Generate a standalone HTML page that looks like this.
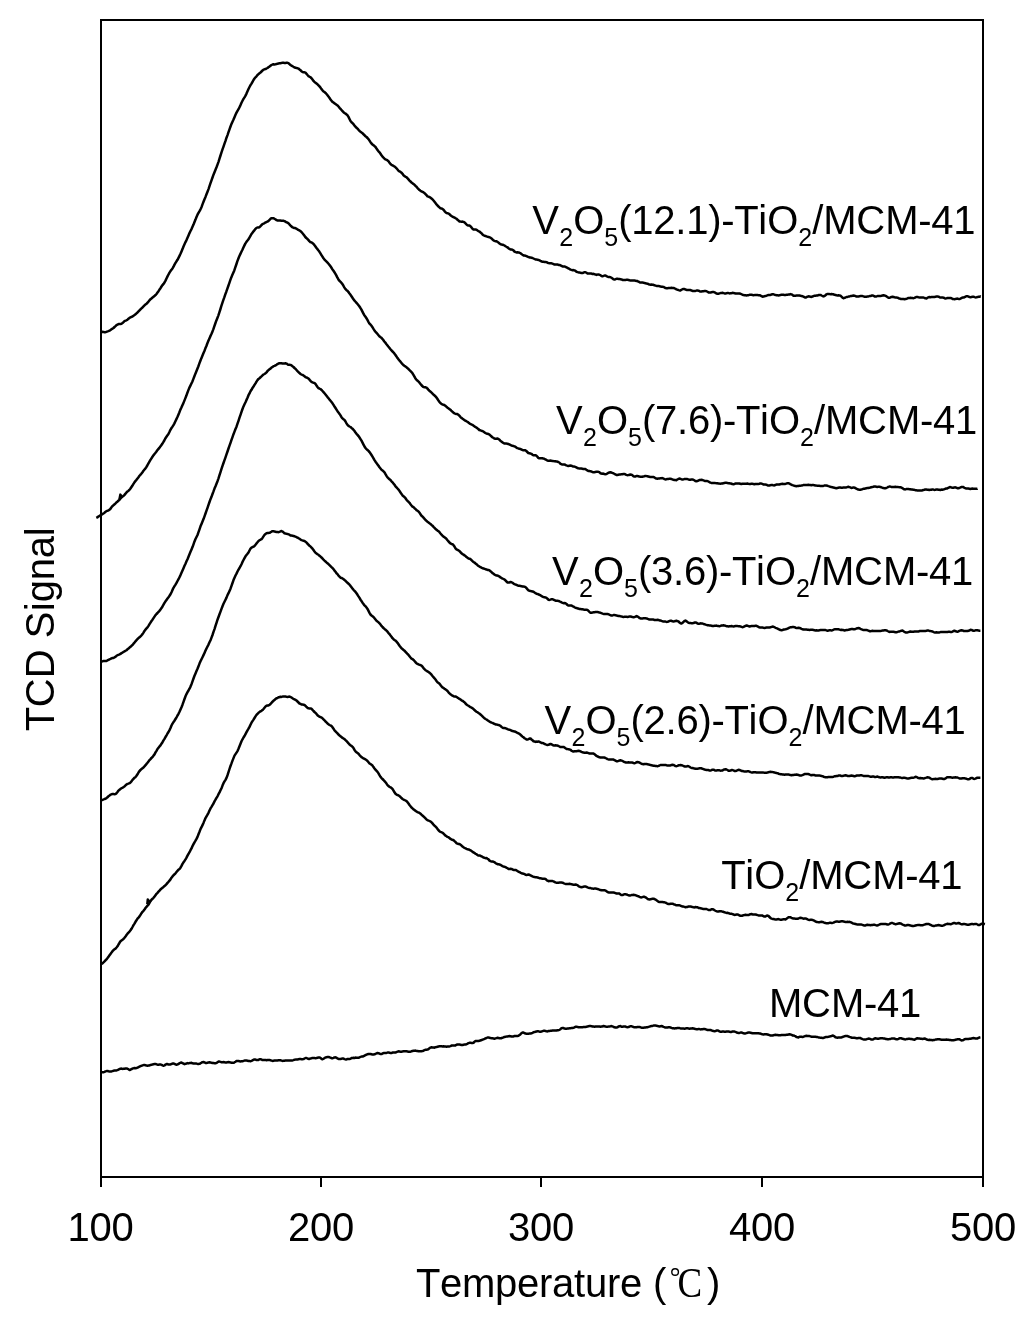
<!DOCTYPE html>
<html><head><meta charset="utf-8">
<style>
html,body{margin:0;padding:0;background:#fff;}
body{width:1024px;height:1324px;overflow:hidden;}
svg{display:block;will-change:transform;}
text{font-family:"Liberation Sans",sans-serif;fill:#000;font-kerning:none;}
</style></head>
<body>
<svg width="1024" height="1324" viewBox="0 0 1024 1324">
<rect x="0" y="0" width="1024" height="1324" fill="#fff"/>
<g stroke="#000" stroke-width="2" fill="none" shape-rendering="crispEdges">
<rect x="101" y="20" width="882" height="1157"/>
<line x1="101" y1="1177" x2="101" y2="1187"/>
<line x1="321" y1="1177" x2="321" y2="1187"/>
<line x1="541" y1="1177" x2="541" y2="1187"/>
<line x1="762" y1="1177" x2="762" y2="1187"/>
<line x1="983" y1="1177" x2="983" y2="1187"/>
</g>
<text><tspan x="67.5 89.5 111.5" y="1241.0" font-size="40">100</tspan></text>
<text><tspan x="288.0 310.0 332.0" y="1241.0" font-size="40">200</tspan></text>
<text><tspan x="508.0 530.0 552.0" y="1241.0" font-size="40">300</tspan></text>
<text><tspan x="729.0 751.0 773.0" y="1241.0" font-size="40">400</tspan></text>
<text><tspan x="950.0 972.0 994.0" y="1241.0" font-size="40">500</tspan></text>
<text><tspan x="416.1 440.1 462.1 495.1 517.1 539.1 552.1 574.1 585.1 607.1 620.1 642.1 653.1" y="1297.0" font-size="40">Temperature (</tspan></text>
<text><tspan x="707.1" y="1297.0" font-size="40">)</tspan></text>
<text transform="translate(54,731.3) rotate(-90)"><tspan x="0.0 24.0 53.0 82.0 93.0 120.0 129.0 151.0 173.0 195.0" y="0.0" font-size="40">TCD Signal</tspan></text>
<text><tspan x="532.2" y="234.0" font-size="40">V</tspan><tspan x="559.2" y="246.0" font-size="25">2</tspan><tspan x="573.2" y="234.0" font-size="40">O</tspan><tspan x="604.2" y="246.0" font-size="25">5</tspan><tspan x="618.2 631.2 653.2 675.2 686.2 708.2 721.2 734.2 758.2 767.2" y="234.0" font-size="40">(12.1)-TiO</tspan><tspan x="798.2" y="246.0" font-size="25">2</tspan><tspan x="812.2 823.2 856.2 885.2 918.2 931.2 953.2" y="234.0" font-size="40">/MCM-41</tspan></text>
<text><tspan x="556.1" y="434.0" font-size="40">V</tspan><tspan x="583.1" y="446.0" font-size="25">2</tspan><tspan x="597.1" y="434.0" font-size="40">O</tspan><tspan x="628.1" y="446.0" font-size="25">5</tspan><tspan x="642.1 655.1 677.1 688.1 710.1 723.1 736.1 760.1 769.1" y="434.0" font-size="40">(7.6)-TiO</tspan><tspan x="800.1" y="446.0" font-size="25">2</tspan><tspan x="814.1 825.1 858.1 887.1 920.1 933.1 955.1" y="434.0" font-size="40">/MCM-41</tspan></text>
<text><tspan x="551.9" y="585.0" font-size="40">V</tspan><tspan x="578.9" y="597.0" font-size="25">2</tspan><tspan x="592.9" y="585.0" font-size="40">O</tspan><tspan x="623.9" y="597.0" font-size="25">5</tspan><tspan x="637.9 650.9 672.9 683.9 705.9 718.9 731.9 755.9 764.9" y="585.0" font-size="40">(3.6)-TiO</tspan><tspan x="795.9" y="597.0" font-size="25">2</tspan><tspan x="809.9 820.9 853.9 882.9 915.9 928.9 950.9" y="585.0" font-size="40">/MCM-41</tspan></text>
<text><tspan x="544.6" y="734.0" font-size="40">V</tspan><tspan x="571.6" y="746.0" font-size="25">2</tspan><tspan x="585.6" y="734.0" font-size="40">O</tspan><tspan x="616.6" y="746.0" font-size="25">5</tspan><tspan x="630.6 643.6 665.6 676.6 698.6 711.6 724.6 748.6 757.6" y="734.0" font-size="40">(2.6)-TiO</tspan><tspan x="788.6" y="746.0" font-size="25">2</tspan><tspan x="802.6 813.6 846.6 875.6 908.6 921.6 943.6" y="734.0" font-size="40">/MCM-41</tspan></text>
<text><tspan x="721.3 745.3 754.3" y="888.5" font-size="40">TiO</tspan><tspan x="785.3" y="900.5" font-size="25">2</tspan><tspan x="799.3 810.3 843.3 872.3 905.3 918.3 940.3" y="888.5" font-size="40">/MCM-41</tspan></text>
<text><tspan x="768.9 801.9 830.9 863.9 876.9 898.9" y="1017.0" font-size="40">MCM-41</tspan></text>
<circle cx="675.1" cy="1272" r="3.3" fill="none" stroke="#000" stroke-width="1.4"/><text x="0.0" y="1297.5" style="font-family:'Liberation Serif',serif;font-size:43px" transform="translate(677.6 0) scale(0.86 1)">C</text>
<g id="curves" stroke="#000" stroke-width="2.50" fill="none" stroke-linejoin="round" stroke-linecap="butt">
<path d="M100.5 332.2L101.5 331.9L102.5 331.8L103.5 331.9L104.5 332.2L105.5 332.2L106.5 331.8L107.5 331.4L108.5 331.1L109.5 330.7L110.5 330.0L111.5 329.2L112.5 328.6L113.5 328.0L114.5 327.0L115.5 326.1L116.5 325.1L117.5 324.6L118.5 324.1L119.5 324.1L120.5 323.9L121.5 323.7L122.5 323.0L123.5 322.1L124.5 321.1L125.5 320.7L126.5 320.3L127.5 319.7L128.5 318.7L129.5 317.9L130.5 317.4L131.5 316.9L132.5 316.5L133.5 315.8L134.5 315.1L135.5 314.3L136.5 313.4L137.5 312.5L138.5 311.4L139.5 310.3L140.5 309.3L141.5 308.4L142.5 307.5L143.5 306.4L144.5 305.4L145.5 304.4L146.5 303.7L147.5 302.8L148.5 301.6L149.5 300.3L150.5 299.2L151.5 298.4L152.5 297.6L153.5 296.7L154.5 295.9L155.5 295.1L156.5 294.0L157.5 292.6L158.5 291.2L159.5 289.6L160.5 288.2L161.5 286.5L162.5 285.1L163.5 283.9L164.5 282.5L165.5 280.6L166.5 278.5L167.5 276.4L168.5 274.5L169.5 272.6L170.5 271.1L171.5 269.7L172.5 268.5L173.5 266.7L174.5 264.6L175.5 262.9L176.5 261.3L177.5 259.8L178.5 257.9L179.5 255.9L180.5 253.8L181.5 251.5L182.5 249.1L183.5 246.5L184.5 244.3L185.5 242.1L186.5 240.1L187.5 237.8L188.5 235.4L189.5 233.1L190.5 231.0L191.5 229.1L192.5 226.8L193.5 224.6L194.5 222.0L195.5 219.6L196.5 217.0L197.5 214.7L198.5 212.8L199.5 211.1L200.5 209.3L201.5 207.2L202.5 204.4L203.5 201.8L204.5 199.2L205.5 196.9L206.5 194.3L207.5 191.7L208.5 189.1L209.5 186.2L210.5 183.2L211.5 180.3L212.5 177.5L213.5 174.7L214.5 172.2L215.5 169.7L216.5 167.3L217.5 164.6L218.5 161.8L219.5 158.6L220.5 155.5L221.5 152.3L222.5 149.4L223.5 146.6L224.5 143.6L225.5 140.9L226.5 137.7L227.5 135.1L228.5 132.2L229.5 129.4L230.5 126.5L231.5 123.9L232.5 121.8L233.5 119.6L234.5 117.2L235.5 114.7L236.5 112.6L237.5 110.8L238.5 109.2L239.5 107.2L240.5 105.1L241.5 102.8L242.5 100.8L243.5 98.9L244.5 97.4L245.5 95.6L246.5 93.6L247.5 91.3L248.5 89.0L249.5 87.0L250.5 85.2L251.5 83.6L252.5 81.8L253.5 80.0L254.5 78.5L255.5 77.3L256.5 76.3L257.5 75.0L258.5 74.1L259.5 73.2L260.5 72.5L261.5 71.5L262.5 70.5L263.5 69.7L264.5 69.3L265.5 69.1L266.5 68.5L267.5 68.0L268.5 67.1L269.5 66.6L270.5 65.8L271.5 65.0L272.5 64.5L273.5 64.3L274.5 64.4L275.5 64.3L276.5 64.1L277.5 63.7L278.5 63.5L279.5 63.3L280.5 63.2L281.5 62.9L282.5 62.8L283.5 62.8L284.5 63.0L285.5 63.0L286.5 62.8L287.5 62.8L288.5 63.2L289.5 64.1L290.5 65.0L291.5 65.6L292.5 66.2L293.5 66.8L294.5 67.3L295.5 67.8L296.5 67.9L297.5 68.3L298.5 68.6L299.5 69.4L300.5 70.2L301.5 71.3L302.5 72.0L303.5 72.2L304.5 72.3L305.5 72.7L306.5 73.8L307.5 75.0L308.5 76.1L309.5 76.7L310.5 77.3L311.5 78.2L312.5 79.5L313.5 80.9L314.5 82.0L315.5 82.7L316.5 83.5L317.5 84.3L318.5 85.3L319.5 86.4L320.5 87.6L321.5 89.1L322.5 90.3L323.5 91.4L324.5 92.1L325.5 92.9L326.5 94.0L327.5 95.2L328.5 96.6L329.5 97.9L330.5 99.5L331.5 100.7L332.5 101.9L333.5 102.5L334.5 103.4L335.5 104.0L336.5 104.7L337.5 105.4L338.5 106.5L339.5 107.8L340.5 108.9L341.5 110.0L342.5 111.1L343.5 112.2L344.5 113.0L345.5 113.6L346.5 114.4L347.5 115.3L348.5 116.9L349.5 119.0L350.5 121.0L351.5 122.2L352.5 123.1L353.5 124.2L354.5 125.6L355.5 126.8L356.5 127.7L357.5 128.6L358.5 129.8L359.5 130.9L360.5 131.8L361.5 132.5L362.5 133.2L363.5 134.3L364.5 135.2L365.5 136.3L366.5 137.0L367.5 138.0L368.5 139.1L369.5 140.6L370.5 142.2L371.5 143.5L372.5 144.5L373.5 145.3L374.5 146.1L375.5 147.0L376.5 148.5L377.5 149.9L378.5 151.3L379.5 152.3L380.5 153.7L381.5 155.2L382.5 156.6L383.5 157.7L384.5 158.7L385.5 159.4L386.5 159.8L387.5 160.4L388.5 161.2L389.5 162.8L390.5 164.0L391.5 164.9L392.5 165.4L393.5 165.9L394.5 166.6L395.5 167.3L396.5 168.3L397.5 169.5L398.5 170.7L399.5 171.4L400.5 171.9L401.5 172.7L402.5 173.8L403.5 175.2L404.5 176.1L405.5 176.7L406.5 177.3L407.5 178.2L408.5 179.4L409.5 180.6L410.5 181.5L411.5 182.5L412.5 183.2L413.5 184.1L414.5 184.8L415.5 185.9L416.5 186.8L417.5 188.1L418.5 189.0L419.5 190.1L420.5 190.8L421.5 191.3L422.5 191.8L423.5 192.4L424.5 193.1L425.5 194.1L426.5 195.2L427.5 196.3L428.5 196.7L429.5 197.2L430.5 197.7L431.5 198.5L432.5 199.4L433.5 200.5L434.5 201.8L435.5 203.1L436.5 204.4L437.5 205.5L438.5 206.5L439.5 207.4L440.5 208.2L441.5 208.5L442.5 208.9L443.5 209.7L444.5 211.1L445.5 212.3L446.5 213.0L447.5 213.2L448.5 213.6L449.5 214.3L450.5 215.2L451.5 216.0L452.5 216.6L453.5 217.2L454.5 217.7L455.5 218.2L456.5 218.8L457.5 219.7L458.5 220.6L459.5 221.4L460.5 221.6L461.5 221.7L462.5 221.6L463.5 221.9L464.5 222.4L465.5 223.4L466.5 224.5L467.5 225.2L468.5 225.5L469.5 225.6L470.5 226.3L471.5 227.4L472.5 228.7L473.5 229.5L474.5 229.6L475.5 229.6L476.5 229.8L477.5 230.5L478.5 231.1L479.5 231.6L480.5 232.4L481.5 233.2L482.5 234.4L483.5 235.2L484.5 235.8L485.5 236.0L486.5 236.4L487.5 236.7L488.5 237.1L489.5 237.3L490.5 237.7L491.5 238.4L492.5 239.5L493.5 240.4L494.5 240.9L495.5 241.2L496.5 241.3L497.5 241.9L498.5 242.6L499.5 243.5L500.5 244.1L501.5 244.6L502.5 244.7L503.5 245.0L504.5 245.5L505.5 246.2L506.5 246.8L507.5 247.3L508.5 248.2L509.5 248.9L510.5 249.5L511.5 249.4L512.5 249.9L513.5 250.4L514.5 251.6L515.5 252.0L516.5 252.5L517.5 252.3L518.5 252.4L519.5 252.7L520.5 253.3L521.5 254.1L522.5 254.8L523.5 255.4L524.5 255.6L525.5 255.8L526.5 256.1L527.5 256.6L528.5 257.0L529.5 257.4L530.5 257.6L531.5 257.8L532.5 258.0L533.5 258.5L534.5 259.0L535.5 259.5L536.5 259.6L537.5 259.7L538.5 259.9L539.5 260.3L540.5 261.0L541.5 261.3L542.5 261.8L543.5 261.7L544.5 261.9L545.5 261.9L546.5 262.2L547.5 262.7L548.5 263.0L549.5 263.2L550.5 263.2L551.5 263.3L552.5 263.7L553.5 264.1L554.5 264.5L555.5 264.4L556.5 264.5L557.5 264.5L558.5 264.9L559.5 264.9L560.5 265.4L561.5 265.9L562.5 266.4L563.5 266.4L564.5 266.4L565.5 266.8L566.5 267.3L567.5 268.0L568.5 268.4L569.5 269.0L570.5 269.6L571.5 269.9L572.5 270.2L573.5 270.1L574.5 270.4L575.5 270.9L576.5 271.8L577.5 272.1L578.5 272.4L579.5 272.4L580.5 272.8L581.5 273.1L582.5 273.1L583.5 272.6L584.5 272.2L585.5 272.2L586.5 272.8L587.5 273.5L588.5 273.6L589.5 273.5L590.5 273.5L591.5 273.6L592.5 274.0L593.5 273.8L594.5 274.2L595.5 274.4L596.5 274.9L597.5 274.6L598.5 274.6L599.5 274.7L600.5 275.3L601.5 276.0L602.5 276.3L603.5 275.9L604.5 275.6L605.5 275.5L606.5 276.1L607.5 276.6L608.5 277.0L609.5 277.1L610.5 277.2L611.5 277.8L612.5 278.5L613.5 279.3L614.5 279.5L615.5 279.2L616.5 278.8L617.5 278.7L618.5 278.9L619.5 279.0L620.5 279.2L621.5 279.4L622.5 279.9L623.5 280.0L624.5 280.1L625.5 279.9L626.5 279.8L627.5 279.8L628.5 280.0L629.5 280.3L630.5 280.5L631.5 280.6L632.5 280.5L633.5 280.5L634.5 280.6L635.5 280.7L636.5 280.9L637.5 281.1L638.5 281.7L639.5 282.2L640.5 282.5L641.5 282.5L642.5 282.6L643.5 282.7L644.5 283.1L645.5 283.3L646.5 283.6L647.5 283.7L648.5 284.2L649.5 284.4L650.5 284.7L651.5 284.6L652.5 284.8L653.5 284.8L654.5 285.3L655.5 285.6L656.5 285.9L657.5 285.9L658.5 285.9L659.5 286.2L660.5 286.6L661.5 286.8L662.5 286.8L663.5 286.9L664.5 287.5L665.5 288.1L666.5 288.3L667.5 288.2L668.5 288.0L669.5 288.0L670.5 288.0L671.5 287.8L672.5 287.9L673.5 287.9L674.5 288.4L675.5 288.7L676.5 289.4L677.5 289.7L678.5 290.1L679.5 290.4L680.5 290.4L681.5 289.8L682.5 289.2L683.5 288.9L684.5 289.1L685.5 289.5L686.5 289.9L687.5 290.0L688.5 290.0L689.5 289.9L690.5 290.1L691.5 290.5L692.5 290.9L693.5 291.1L694.5 291.0L695.5 290.9L696.5 290.6L697.5 290.5L698.5 290.7L699.5 291.2L700.5 291.5L701.5 291.5L702.5 291.2L703.5 291.3L704.5 291.1L705.5 291.1L706.5 291.2L707.5 291.8L708.5 292.4L709.5 292.6L710.5 292.6L711.5 292.3L712.5 292.1L713.5 291.9L714.5 292.3L715.5 292.9L716.5 293.6L717.5 293.8L718.5 293.7L719.5 293.4L720.5 293.1L721.5 293.0L722.5 292.8L723.5 293.1L724.5 293.4L725.5 293.6L726.5 293.2L727.5 293.1L728.5 293.1L729.5 293.4L730.5 293.3L731.5 293.2L732.5 292.8L733.5 292.9L734.5 293.2L735.5 293.6L736.5 293.6L737.5 293.4L738.5 293.4L739.5 293.5L740.5 293.8L741.5 294.2L742.5 294.8L743.5 295.1L744.5 295.3L745.5 295.2L746.5 295.4L747.5 295.3L748.5 295.2L749.5 294.8L750.5 294.7L751.5 294.8L752.5 295.0L753.5 295.2L754.5 295.1L755.5 294.9L756.5 295.0L757.5 295.1L758.5 295.2L759.5 295.2L760.5 295.5L761.5 296.2L762.5 296.7L763.5 296.6L764.5 296.2L765.5 295.9L766.5 295.7L767.5 295.3L768.5 295.1L769.5 295.0L770.5 294.9L771.5 294.5L772.5 294.2L773.5 294.3L774.5 294.7L775.5 294.9L776.5 295.2L777.5 295.3L778.5 295.4L779.5 295.2L780.5 295.1L781.5 294.7L782.5 294.7L783.5 294.8L784.5 295.1L785.5 294.9L786.5 294.7L787.5 294.7L788.5 294.6L789.5 294.5L790.5 294.1L791.5 294.4L792.5 294.9L793.5 295.7L794.5 295.7L795.5 295.7L796.5 295.6L797.5 295.6L798.5 295.5L799.5 295.5L800.5 295.8L801.5 296.0L802.5 296.3L803.5 296.6L804.5 297.2L805.5 297.5L806.5 297.2L807.5 296.7L808.5 296.3L809.5 296.5L810.5 296.7L811.5 296.9L812.5 296.5L813.5 296.1L814.5 295.7L815.5 295.7L816.5 295.5L817.5 295.5L818.5 295.1L819.5 295.0L820.5 294.9L821.5 295.5L822.5 296.0L823.5 296.4L824.5 296.0L825.5 295.2L826.5 294.3L827.5 293.9L828.5 293.9L829.5 294.1L830.5 294.2L831.5 294.0L832.5 294.2L833.5 294.3L834.5 294.8L835.5 295.0L836.5 295.3L837.5 295.4L838.5 295.3L839.5 295.4L840.5 295.7L841.5 296.6L842.5 297.6L843.5 298.2L844.5 297.9L845.5 297.5L846.5 297.0L847.5 296.9L848.5 296.6L849.5 296.4L850.5 296.1L851.5 296.0L852.5 295.8L853.5 295.6L854.5 295.7L855.5 296.1L856.5 296.5L857.5 296.4L858.5 296.4L859.5 296.2L860.5 296.1L861.5 296.0L862.5 296.1L863.5 296.4L864.5 296.7L865.5 296.7L866.5 296.7L867.5 296.4L868.5 296.4L869.5 296.1L870.5 296.1L871.5 295.6L872.5 295.6L873.5 295.8L874.5 296.4L875.5 296.5L876.5 296.5L877.5 296.0L878.5 296.0L879.5 295.9L880.5 296.0L881.5 295.8L882.5 295.5L883.5 295.3L884.5 295.4L885.5 295.8L886.5 296.4L887.5 297.1L888.5 297.7L889.5 297.8L890.5 297.4L891.5 296.9L892.5 296.7L893.5 297.0L894.5 297.3L895.5 297.5L896.5 297.6L897.5 297.7L898.5 298.2L899.5 298.5L900.5 298.9L901.5 298.9L902.5 299.1L903.5 299.1L904.5 299.3L905.5 299.1L906.5 298.8L907.5 298.4L908.5 297.9L909.5 297.9L910.5 297.8L911.5 298.0L912.5 298.0L913.5 298.2L914.5 297.8L915.5 297.3L916.5 296.9L917.5 297.1L918.5 297.3L919.5 297.4L920.5 297.5L921.5 297.4L922.5 297.5L923.5 297.5L924.5 298.0L925.5 298.3L926.5 298.4L927.5 297.7L928.5 297.3L929.5 297.1L930.5 297.2L931.5 297.1L932.5 297.1L933.5 297.0L934.5 297.0L935.5 296.8L936.5 296.6L937.5 296.4L938.5 296.7L939.5 297.2L940.5 297.5L941.5 297.4L942.5 297.4L943.5 297.7L944.5 298.2L945.5 298.4L946.5 298.3L947.5 298.1L948.5 298.1L949.5 297.9L950.5 298.0L951.5 298.3L952.5 298.9L953.5 299.1L954.5 299.2L955.5 298.9L956.5 298.7L957.5 298.6L958.5 298.9L959.5 299.0L960.5 298.6L961.5 298.0L962.5 297.6L963.5 297.5L964.5 297.2L965.5 296.6L966.5 296.2L967.5 296.2L968.5 296.6L969.5 297.0L970.5 297.2L971.5 297.0L972.5 296.8L973.5 296.7L974.5 297.1L975.5 297.4L976.5 297.3L977.5 297.1L978.5 296.8L979.5 296.8L980.5 296.4L980.8 296.5"/>
<path d="M96.3 517.9L97.3 517.4L98.3 516.6L99.3 516.0L100.3 515.4L101.3 514.9L102.3 514.3L103.3 513.6L104.3 512.9L105.3 512.0L106.3 511.3L107.3 510.7L108.3 510.5L109.3 509.9L110.3 509.0L111.3 507.5L112.3 506.3L113.3 505.4L114.3 504.5L115.3 503.6L116.3 502.5L117.3 501.7L118.3 500.8L119.3 500.0L120.3 498.7L121.3 497.6L122.3 496.7L123.3 496.0L124.3 495.1L125.3 493.9L126.3 492.7L127.3 491.6L128.3 490.9L129.3 490.0L130.3 488.8L131.3 487.3L132.3 485.8L133.3 484.1L134.3 482.6L135.3 481.2L136.3 480.1L137.3 478.7L138.3 477.4L139.3 476.0L140.3 474.9L141.3 473.7L142.3 472.4L143.3 471.0L144.3 469.8L145.3 468.6L146.3 467.2L147.3 465.5L148.3 463.6L149.3 461.9L150.3 460.2L151.3 458.6L152.3 457.0L153.3 455.6L154.3 454.2L155.3 453.0L156.3 451.7L157.3 450.3L158.3 449.1L159.3 447.9L160.3 446.6L161.3 445.2L162.3 443.8L163.3 442.2L164.3 440.5L165.3 438.5L166.3 437.0L167.3 435.6L168.3 434.3L169.3 432.3L170.3 430.1L171.3 428.3L172.3 426.9L173.3 425.4L174.3 423.6L175.3 421.5L176.3 419.4L177.3 417.3L178.3 414.9L179.3 412.5L180.3 409.9L181.3 407.8L182.3 405.5L183.3 403.4L184.3 400.9L185.3 398.4L186.3 395.8L187.3 393.0L188.3 390.4L189.3 387.9L190.3 385.9L191.3 383.8L192.3 381.7L193.3 379.1L194.3 376.5L195.3 373.9L196.3 371.5L197.3 369.0L198.3 366.5L199.3 363.7L200.3 361.0L201.3 358.4L202.3 356.0L203.3 353.5L204.3 351.2L205.3 348.6L206.3 346.2L207.3 343.5L208.3 341.1L209.3 338.8L210.3 336.4L211.3 334.3L212.3 331.9L213.3 329.4L214.3 326.4L215.3 323.5L216.3 320.7L217.3 318.2L218.3 315.6L219.3 312.6L220.3 309.5L221.3 306.2L222.3 303.2L223.3 300.1L224.3 297.4L225.3 294.4L226.3 291.7L227.3 288.8L228.3 286.0L229.3 283.1L230.3 280.2L231.3 277.4L232.3 275.1L233.3 272.7L234.3 270.4L235.3 267.4L236.3 264.5L237.3 261.4L238.3 258.8L239.3 256.2L240.3 254.1L241.3 252.0L242.3 250.0L243.3 247.7L244.3 245.6L245.3 243.6L246.3 242.1L247.3 240.7L248.3 239.5L249.3 237.8L250.3 236.2L251.3 234.2L252.3 232.9L253.3 231.6L254.3 230.4L255.3 229.1L256.3 228.0L257.3 227.5L258.3 227.5L259.3 227.3L260.3 226.4L261.3 225.2L262.3 224.3L263.3 223.7L264.3 223.3L265.3 222.6L266.3 222.1L267.3 221.7L268.3 221.1L269.3 220.1L270.3 219.1L271.3 218.3L272.3 218.2L273.3 218.2L274.3 218.7L275.3 219.3L276.3 220.0L277.3 220.4L278.3 220.5L279.3 220.5L280.3 220.6L281.3 220.8L282.3 220.8L283.3 220.7L284.3 221.1L285.3 221.5L286.3 222.2L287.3 222.4L288.3 223.2L289.3 224.2L290.3 225.4L291.3 226.3L292.3 227.2L293.3 227.7L294.3 228.1L295.3 228.1L296.3 228.6L297.3 229.2L298.3 229.9L299.3 230.4L300.3 231.0L301.3 231.9L302.3 233.0L303.3 234.2L304.3 235.6L305.3 237.0L306.3 238.0L307.3 238.8L308.3 239.9L309.3 241.1L310.3 242.0L311.3 242.4L312.3 242.9L313.3 243.7L314.3 244.9L315.3 246.2L316.3 247.7L317.3 248.9L318.3 250.3L319.3 251.6L320.3 253.2L321.3 254.8L322.3 256.4L323.3 258.0L324.3 259.3L325.3 260.4L326.3 261.4L327.3 262.4L328.3 263.5L329.3 264.7L330.3 266.1L331.3 267.5L332.3 269.2L333.3 270.5L334.3 272.0L335.3 273.6L336.3 275.4L337.3 277.4L338.3 279.2L339.3 280.7L340.3 281.7L341.3 282.7L342.3 283.9L343.3 285.5L344.3 287.4L345.3 288.9L346.3 289.9L347.3 290.7L348.3 291.8L349.3 293.3L350.3 294.6L351.3 296.0L352.3 297.5L353.3 299.1L354.3 300.4L355.3 301.5L356.3 302.6L357.3 303.8L358.3 305.0L359.3 306.3L360.3 307.8L361.3 309.4L362.3 311.4L363.3 313.3L364.3 315.2L365.3 316.5L366.3 318.0L367.3 319.7L368.3 321.6L369.3 323.3L370.3 324.4L371.3 325.5L372.3 326.9L373.3 328.6L374.3 330.2L375.3 331.6L376.3 332.6L377.3 333.8L378.3 335.0L379.3 336.2L380.3 337.0L381.3 337.7L382.3 338.8L383.3 340.0L384.3 341.5L385.3 342.6L386.3 344.0L387.3 345.2L388.3 346.5L389.3 347.7L390.3 349.0L391.3 350.2L392.3 351.3L393.3 352.2L394.3 353.4L395.3 354.7L396.3 356.2L397.3 357.8L398.3 359.1L399.3 360.3L400.3 361.4L401.3 362.7L402.3 363.9L403.3 365.0L404.3 365.8L405.3 366.4L406.3 367.1L407.3 368.0L408.3 368.8L409.3 369.9L410.3 370.9L411.3 371.9L412.3 373.0L413.3 374.6L414.3 376.4L415.3 378.2L416.3 379.6L417.3 380.5L418.3 381.4L419.3 382.4L420.3 383.7L421.3 384.9L422.3 386.1L423.3 386.9L424.3 387.2L425.3 387.3L426.3 387.6L427.3 388.4L428.3 389.6L429.3 390.7L430.3 391.5L431.3 392.4L432.3 393.4L433.3 394.5L434.3 395.3L435.3 396.2L436.3 397.3L437.3 398.8L438.3 400.3L439.3 401.7L440.3 402.9L441.3 403.8L442.3 404.4L443.3 404.7L444.3 405.0L445.3 405.7L446.3 406.6L447.3 407.5L448.3 408.2L449.3 408.9L450.3 409.7L451.3 410.7L452.3 411.6L453.3 412.5L454.3 413.3L455.3 413.7L456.3 413.9L457.3 414.0L458.3 414.7L459.3 415.6L460.3 416.8L461.3 417.8L462.3 418.6L463.3 419.3L464.3 420.0L465.3 420.7L466.3 421.2L467.3 421.8L468.3 422.4L469.3 423.2L470.3 423.9L471.3 424.4L472.3 424.8L473.3 425.5L474.3 426.2L475.3 426.9L476.3 427.5L477.3 428.3L478.3 429.0L479.3 430.0L480.3 430.3L481.3 430.7L482.3 430.9L483.3 431.6L484.3 432.3L485.3 433.0L486.3 433.5L487.3 433.7L488.3 433.9L489.3 434.5L490.3 435.4L491.3 436.3L492.3 437.2L493.3 437.8L494.3 438.5L495.3 438.7L496.3 438.7L497.3 438.5L498.3 438.9L499.3 439.6L500.3 440.7L501.3 441.4L502.3 442.3L503.3 442.9L504.3 443.5L505.3 443.6L506.3 443.6L507.3 443.7L508.3 444.0L509.3 444.4L510.3 444.9L511.3 445.4L512.3 445.8L513.3 445.9L514.3 446.3L515.3 446.7L516.3 447.5L517.3 448.1L518.3 448.4L519.3 448.8L520.3 448.9L521.3 449.5L522.3 449.9L523.3 450.3L524.3 450.2L525.3 450.3L526.3 451.0L527.3 452.0L528.3 453.0L529.3 453.2L530.3 453.4L531.3 453.8L532.3 454.6L533.3 455.2L534.3 455.2L535.3 455.2L536.3 455.7L537.3 456.7L538.3 457.8L539.3 458.3L540.3 458.3L541.3 458.3L542.3 458.3L543.3 458.6L544.3 458.8L545.3 459.3L546.3 459.9L547.3 460.5L548.3 460.7L549.3 460.7L550.3 460.6L551.3 460.7L552.3 460.9L553.3 461.1L554.3 461.2L555.3 461.3L556.3 461.6L557.3 461.6L558.3 462.0L559.3 462.5L560.3 463.6L561.3 464.2L562.3 464.6L563.3 464.4L564.3 464.5L565.3 464.8L566.3 465.3L567.3 465.7L568.3 465.9L569.3 465.7L570.3 465.6L571.3 465.7L572.3 466.2L573.3 466.4L574.3 466.6L575.3 466.9L576.3 467.4L577.3 468.0L578.3 468.3L579.3 468.4L580.3 468.4L581.3 468.5L582.3 468.7L583.3 468.9L584.3 469.0L585.3 469.1L586.3 469.8L587.3 470.4L588.3 471.0L589.3 470.9L590.3 471.3L591.3 471.4L592.3 472.0L593.3 472.2L594.3 472.2L595.3 472.0L596.3 471.8L597.3 471.7L598.3 471.8L599.3 472.2L600.3 473.2L601.3 473.5L602.3 473.8L603.3 473.6L604.3 474.0L605.3 474.2L606.3 474.1L607.3 473.5L608.3 472.9L609.3 472.5L610.3 472.3L611.3 472.5L612.3 472.9L613.3 473.2L614.3 473.8L615.3 474.3L616.3 474.9L617.3 475.0L618.3 474.8L619.3 474.6L620.3 474.4L621.3 474.3L622.3 474.3L623.3 474.1L624.3 474.1L625.3 474.3L626.3 474.8L627.3 475.2L628.3 475.1L629.3 474.9L630.3 474.5L631.3 474.7L632.3 475.2L633.3 476.2L634.3 476.6L635.3 476.5L636.3 476.1L637.3 476.1L638.3 476.3L639.3 476.6L640.3 476.7L641.3 476.8L642.3 476.7L643.3 476.4L644.3 476.2L645.3 475.9L646.3 476.1L647.3 476.2L648.3 476.5L649.3 476.8L650.3 477.1L651.3 477.1L652.3 476.9L653.3 476.9L654.3 477.4L655.3 478.1L656.3 478.6L657.3 478.7L658.3 478.4L659.3 478.4L660.3 478.3L661.3 478.2L662.3 478.1L663.3 478.4L664.3 479.1L665.3 479.4L666.3 479.2L667.3 479.0L668.3 478.9L669.3 478.8L670.3 478.7L671.3 478.9L672.3 479.4L673.3 479.7L674.3 480.1L675.3 480.1L676.3 480.2L677.3 479.5L678.3 479.0L679.3 478.6L680.3 478.8L681.3 479.2L682.3 479.4L683.3 479.4L684.3 479.1L685.3 479.0L686.3 478.9L687.3 479.1L688.3 479.4L689.3 479.7L690.3 479.7L691.3 479.5L692.3 479.4L693.3 479.7L694.3 480.3L695.3 481.0L696.3 481.3L697.3 481.1L698.3 480.6L699.3 480.1L700.3 479.9L701.3 479.8L702.3 479.9L703.3 480.3L704.3 480.7L705.3 481.0L706.3 481.0L707.3 481.1L708.3 481.4L709.3 482.1L710.3 482.5L711.3 483.0L712.3 482.9L713.3 482.9L714.3 482.9L715.3 483.1L716.3 483.2L717.3 483.2L718.3 483.4L719.3 483.6L720.3 483.7L721.3 483.6L722.3 483.5L723.3 483.2L724.3 483.0L725.3 482.8L726.3 482.8L727.3 482.9L728.3 483.2L729.3 483.3L730.3 483.5L731.3 483.6L732.3 484.1L733.3 484.2L734.3 484.0L735.3 483.6L736.3 483.5L737.3 483.4L738.3 483.4L739.3 483.5L740.3 483.8L741.3 484.1L742.3 483.8L743.3 483.7L744.3 483.7L745.3 483.8L746.3 483.7L747.3 483.6L748.3 483.8L749.3 483.9L750.3 483.9L751.3 483.7L752.3 483.8L753.3 483.9L754.3 484.3L755.3 484.0L756.3 484.1L757.3 483.9L758.3 483.9L759.3 483.7L760.3 483.4L761.3 483.6L762.3 483.9L763.3 484.4L764.3 484.6L765.3 484.6L766.3 484.7L767.3 485.2L768.3 485.5L769.3 485.6L770.3 485.2L771.3 485.0L772.3 485.1L773.3 485.3L774.3 485.4L775.3 485.0L776.3 484.6L777.3 484.5L778.3 484.6L779.3 484.6L780.3 484.2L781.3 483.9L782.3 483.8L783.3 484.1L784.3 484.1L785.3 483.9L786.3 483.6L787.3 483.3L788.3 483.3L789.3 483.5L790.3 484.1L791.3 484.6L792.3 485.1L793.3 485.4L794.3 485.7L795.3 485.9L796.3 486.2L797.3 486.1L798.3 486.0L799.3 485.8L800.3 485.7L801.3 485.6L802.3 485.4L803.3 485.1L804.3 485.0L805.3 485.1L806.3 485.0L807.3 485.0L808.3 484.8L809.3 485.0L810.3 485.1L811.3 485.3L812.3 485.1L813.3 485.1L814.3 485.2L815.3 485.4L816.3 485.6L817.3 485.7L818.3 485.7L819.3 485.8L820.3 485.9L821.3 486.1L822.3 486.0L823.3 486.0L824.3 485.5L825.3 485.4L826.3 485.5L827.3 485.7L828.3 486.1L829.3 486.4L830.3 486.8L831.3 487.1L832.3 487.3L833.3 487.5L834.3 487.7L835.3 488.1L836.3 488.3L837.3 488.1L838.3 487.7L839.3 487.5L840.3 487.5L841.3 487.7L842.3 487.7L843.3 487.6L844.3 487.5L845.3 487.6L846.3 487.4L847.3 487.1L848.3 486.8L849.3 487.1L850.3 487.4L851.3 487.9L852.3 487.8L853.3 487.6L854.3 487.6L855.3 488.0L856.3 488.7L857.3 489.1L858.3 489.6L859.3 489.7L860.3 489.8L861.3 489.4L862.3 489.2L863.3 488.8L864.3 488.7L865.3 488.5L866.3 488.3L867.3 487.9L868.3 487.9L869.3 487.7L870.3 487.5L871.3 487.2L872.3 487.0L873.3 486.8L874.3 486.5L875.3 486.5L876.3 486.7L877.3 486.9L878.3 486.8L879.3 486.8L880.3 487.0L881.3 487.3L882.3 487.7L883.3 487.9L884.3 488.2L885.3 488.2L886.3 488.0L887.3 487.5L888.3 486.9L889.3 486.6L890.3 486.6L891.3 486.9L892.3 487.1L893.3 487.0L894.3 486.9L895.3 486.7L896.3 486.9L897.3 486.9L898.3 487.1L899.3 487.2L900.3 487.3L901.3 487.5L902.3 488.1L903.3 488.8L904.3 489.3L905.3 489.4L906.3 489.1L907.3 489.0L908.3 488.9L909.3 489.2L910.3 489.2L911.3 489.5L912.3 489.5L913.3 489.7L914.3 489.8L915.3 490.2L916.3 490.3L917.3 490.4L918.3 490.4L919.3 490.5L920.3 490.5L921.3 490.4L922.3 490.4L923.3 490.0L924.3 489.8L925.3 489.5L926.3 489.5L927.3 489.7L928.3 489.7L929.3 490.0L930.3 489.8L931.3 489.7L932.3 489.4L933.3 489.6L934.3 489.9L935.3 489.8L936.3 489.6L937.3 489.4L938.3 489.8L939.3 489.8L940.3 490.0L941.3 489.6L942.3 489.7L943.3 489.4L944.3 489.2L945.3 488.8L946.3 488.5L947.3 488.4L948.3 487.8L949.3 487.3L950.3 487.1L951.3 487.4L952.3 487.8L953.3 487.7L954.3 487.4L955.3 487.3L956.3 487.7L957.3 488.2L958.3 488.3L959.3 488.0L960.3 487.5L961.3 487.1L962.3 486.9L963.3 487.1L964.3 487.8L965.3 488.2L966.3 488.6L967.3 488.4L968.3 488.5L969.3 488.7L970.3 488.9L971.3 488.7L972.3 488.6L973.3 488.7L974.3 488.8L975.3 488.8L976.3 488.8L977.3 488.8L977.5 488.7"/>
<path d="M100.5 661.8L101.5 661.7L102.5 661.3L103.5 660.9L104.5 660.9L105.5 661.0L106.5 660.9L107.5 660.4L108.5 659.8L109.5 659.3L110.5 658.9L111.5 658.4L112.5 658.0L113.5 657.9L114.5 657.4L115.5 656.8L116.5 655.8L117.5 655.2L118.5 654.8L119.5 654.4L120.5 653.9L121.5 653.1L122.5 652.6L123.5 651.9L124.5 651.4L125.5 650.8L126.5 650.2L127.5 649.3L128.5 648.6L129.5 647.6L130.5 646.8L131.5 645.8L132.5 645.0L133.5 643.7L134.5 642.6L135.5 641.3L136.5 640.2L137.5 639.0L138.5 638.1L139.5 637.3L140.5 636.3L141.5 635.3L142.5 634.1L143.5 632.6L144.5 630.9L145.5 629.6L146.5 628.4L147.5 627.4L148.5 625.9L149.5 624.2L150.5 622.6L151.5 621.0L152.5 619.7L153.5 618.1L154.5 616.6L155.5 615.1L156.5 614.0L157.5 613.0L158.5 611.9L159.5 610.8L160.5 609.4L161.5 608.1L162.5 606.5L163.5 604.7L164.5 602.9L165.5 601.3L166.5 599.9L167.5 598.5L168.5 597.2L169.5 595.8L170.5 594.3L171.5 592.2L172.5 589.9L173.5 587.8L174.5 586.2L175.5 584.6L176.5 582.9L177.5 581.0L178.5 579.2L179.5 577.2L180.5 575.1L181.5 572.8L182.5 570.5L183.5 568.2L184.5 565.8L185.5 563.7L186.5 561.3L187.5 559.2L188.5 556.7L189.5 554.3L190.5 551.8L191.5 549.5L192.5 547.1L193.5 544.3L194.5 541.4L195.5 539.0L196.5 537.0L197.5 535.0L198.5 532.2L199.5 529.3L200.5 526.3L201.5 523.9L202.5 521.5L203.5 519.1L204.5 516.3L205.5 513.5L206.5 510.7L207.5 507.9L208.5 504.9L209.5 502.0L210.5 499.2L211.5 496.8L212.5 494.0L213.5 491.4L214.5 488.6L215.5 486.3L216.5 483.8L217.5 481.2L218.5 478.3L219.5 475.1L220.5 472.1L221.5 468.9L222.5 465.9L223.5 463.0L224.5 460.2L225.5 457.4L226.5 454.4L227.5 451.5L228.5 448.5L229.5 445.7L230.5 442.8L231.5 439.9L232.5 437.1L233.5 434.2L234.5 431.6L235.5 429.0L236.5 426.7L237.5 423.7L238.5 420.8L239.5 417.7L240.5 414.9L241.5 411.9L242.5 409.0L243.5 406.4L244.5 404.2L245.5 402.2L246.5 399.9L247.5 397.8L248.5 395.2L249.5 393.3L250.5 391.3L251.5 389.8L252.5 387.9L253.5 386.5L254.5 384.9L255.5 383.4L256.5 381.6L257.5 380.1L258.5 378.9L259.5 378.2L260.5 377.3L261.5 376.4L262.5 375.4L263.5 374.5L264.5 374.0L265.5 373.3L266.5 372.4L267.5 371.0L268.5 370.1L269.5 369.2L270.5 368.6L271.5 367.6L272.5 366.9L273.5 366.2L274.5 365.8L275.5 365.3L276.5 364.8L277.5 364.1L278.5 363.5L279.5 363.2L280.5 363.2L281.5 363.3L282.5 363.6L283.5 363.6L284.5 363.4L285.5 363.3L286.5 363.6L287.5 364.3L288.5 364.8L289.5 364.8L290.5 364.9L291.5 365.4L292.5 366.3L293.5 367.0L294.5 368.0L295.5 368.9L296.5 370.0L297.5 371.1L298.5 372.1L299.5 373.1L300.5 373.9L301.5 374.6L302.5 374.9L303.5 375.5L304.5 376.2L305.5 377.1L306.5 377.5L307.5 377.9L308.5 378.6L309.5 379.7L310.5 380.9L311.5 381.9L312.5 382.4L313.5 382.7L314.5 383.1L315.5 383.9L316.5 385.5L317.5 387.0L318.5 388.2L319.5 388.7L320.5 389.1L321.5 389.9L322.5 391.0L323.5 392.1L324.5 393.3L325.5 394.5L326.5 395.8L327.5 397.1L328.5 398.3L329.5 399.6L330.5 400.8L331.5 402.0L332.5 403.3L333.5 404.9L334.5 406.5L335.5 408.0L336.5 409.6L337.5 411.2L338.5 412.6L339.5 413.9L340.5 415.4L341.5 417.2L342.5 418.4L343.5 419.3L344.5 420.0L345.5 421.5L346.5 423.3L347.5 424.9L348.5 425.9L349.5 426.5L350.5 427.0L351.5 427.9L352.5 428.7L353.5 429.8L354.5 431.0L355.5 432.5L356.5 433.8L357.5 434.9L358.5 436.1L359.5 437.5L360.5 439.1L361.5 440.7L362.5 442.6L363.5 444.6L364.5 446.5L365.5 448.0L366.5 449.1L367.5 450.0L368.5 450.9L369.5 452.1L370.5 453.5L371.5 455.0L372.5 456.6L373.5 458.3L374.5 460.1L375.5 461.7L376.5 463.1L377.5 464.4L378.5 465.8L379.5 467.3L380.5 468.5L381.5 469.7L382.5 470.4L383.5 471.4L384.5 472.4L385.5 474.2L386.5 475.9L387.5 477.4L388.5 478.3L389.5 479.3L390.5 480.1L391.5 481.3L392.5 482.3L393.5 483.6L394.5 484.8L395.5 486.3L396.5 487.4L397.5 488.5L398.5 489.6L399.5 490.9L400.5 492.6L401.5 493.9L402.5 495.4L403.5 496.2L404.5 497.1L405.5 498.2L406.5 499.7L407.5 500.9L408.5 501.8L409.5 502.8L410.5 504.2L411.5 505.5L412.5 506.7L413.5 507.2L414.5 508.2L415.5 509.0L416.5 510.1L417.5 510.7L418.5 511.4L419.5 512.7L420.5 514.3L421.5 515.8L422.5 516.6L423.5 517.7L424.5 518.8L425.5 520.0L426.5 520.9L427.5 521.8L428.5 522.5L429.5 523.3L430.5 524.0L431.5 524.9L432.5 525.7L433.5 526.8L434.5 527.8L435.5 529.0L436.5 529.8L437.5 530.6L438.5 531.2L439.5 532.2L440.5 533.5L441.5 534.7L442.5 535.7L443.5 536.6L444.5 537.2L445.5 538.0L446.5 538.9L447.5 540.2L448.5 541.4L449.5 542.6L450.5 543.4L451.5 544.0L452.5 544.2L453.5 545.2L454.5 546.6L455.5 548.3L456.5 549.4L457.5 549.9L458.5 550.4L459.5 551.1L460.5 552.3L461.5 553.2L462.5 554.1L463.5 554.6L464.5 555.4L465.5 556.0L466.5 557.1L467.5 557.8L468.5 558.5L469.5 558.7L470.5 559.2L471.5 560.1L472.5 561.1L473.5 562.0L474.5 562.6L475.5 563.4L476.5 564.2L477.5 565.2L478.5 565.9L479.5 566.6L480.5 567.1L481.5 567.8L482.5 568.1L483.5 568.6L484.5 568.7L485.5 569.3L486.5 569.5L487.5 569.9L488.5 570.0L489.5 570.4L490.5 571.3L491.5 572.1L492.5 573.1L493.5 573.7L494.5 574.7L495.5 575.1L496.5 575.5L497.5 575.6L498.5 576.0L499.5 576.6L500.5 577.4L501.5 578.0L502.5 578.6L503.5 578.9L504.5 579.6L505.5 580.4L506.5 581.6L507.5 582.4L508.5 582.6L509.5 582.4L510.5 582.0L511.5 582.2L512.5 582.8L513.5 583.6L514.5 584.1L515.5 584.5L516.5 584.9L517.5 585.4L518.5 585.8L519.5 585.8L520.5 586.0L521.5 586.2L522.5 586.6L523.5 586.6L524.5 586.7L525.5 587.1L526.5 588.2L527.5 589.3L528.5 590.4L529.5 590.8L530.5 591.1L531.5 591.2L532.5 591.5L533.5 591.8L534.5 592.5L535.5 593.1L536.5 593.7L537.5 593.9L538.5 594.5L539.5 594.8L540.5 595.4L541.5 596.0L542.5 596.6L543.5 597.0L544.5 597.2L545.5 597.4L546.5 597.8L547.5 598.8L548.5 599.7L549.5 599.9L550.5 599.6L551.5 599.2L552.5 599.3L553.5 599.6L554.5 600.2L555.5 600.7L556.5 600.7L557.5 600.8L558.5 600.9L559.5 601.4L560.5 601.8L561.5 602.4L562.5 602.8L563.5 603.2L564.5 603.1L565.5 603.3L566.5 604.0L567.5 605.0L568.5 605.6L569.5 605.5L570.5 605.4L571.5 605.5L572.5 606.1L573.5 606.6L574.5 607.3L575.5 607.7L576.5 608.0L577.5 608.4L578.5 608.6L579.5 609.0L580.5 609.0L581.5 609.2L582.5 609.2L583.5 609.5L584.5 609.7L585.5 609.8L586.5 609.8L587.5 610.0L588.5 610.9L589.5 612.0L590.5 612.7L591.5 612.8L592.5 612.6L593.5 612.3L594.5 612.2L595.5 612.0L596.5 612.0L597.5 612.1L598.5 612.3L599.5 612.6L600.5 612.8L601.5 613.2L602.5 613.6L603.5 613.9L604.5 614.0L605.5 614.0L606.5 614.0L607.5 614.1L608.5 614.3L609.5 614.7L610.5 615.3L611.5 615.5L612.5 615.5L613.5 615.0L614.5 615.1L615.5 615.2L616.5 615.6L617.5 615.7L618.5 616.0L619.5 616.1L620.5 616.3L621.5 616.4L622.5 616.7L623.5 616.9L624.5 616.8L625.5 616.8L626.5 616.8L627.5 616.9L628.5 616.7L629.5 616.6L630.5 616.5L631.5 616.8L632.5 617.1L633.5 617.3L634.5 617.0L635.5 616.6L636.5 616.1L637.5 616.5L638.5 617.1L639.5 618.0L640.5 618.4L641.5 618.5L642.5 618.4L643.5 618.3L644.5 618.3L645.5 618.2L646.5 618.4L647.5 618.7L648.5 619.3L649.5 619.5L650.5 619.6L651.5 619.4L652.5 619.5L653.5 619.6L654.5 620.0L655.5 620.1L656.5 619.9L657.5 619.8L658.5 620.0L659.5 620.4L660.5 620.5L661.5 620.9L662.5 621.2L663.5 621.4L664.5 621.5L665.5 621.6L666.5 621.9L667.5 621.8L668.5 621.6L669.5 620.9L670.5 620.7L671.5 620.8L672.5 621.3L673.5 621.5L674.5 621.3L675.5 621.0L676.5 620.8L677.5 621.1L678.5 621.5L679.5 622.5L680.5 623.2L681.5 623.5L682.5 622.9L683.5 621.9L684.5 621.0L685.5 620.6L686.5 621.3L687.5 622.1L688.5 622.8L689.5 623.0L690.5 623.1L691.5 623.2L692.5 623.2L693.5 623.1L694.5 622.6L695.5 622.5L696.5 622.8L697.5 623.6L698.5 623.8L699.5 623.7L700.5 623.3L701.5 623.4L702.5 623.5L703.5 624.0L704.5 624.2L705.5 624.6L706.5 624.9L707.5 625.2L708.5 625.3L709.5 625.4L710.5 625.5L711.5 625.7L712.5 626.0L713.5 626.0L714.5 625.8L715.5 625.7L716.5 625.6L717.5 625.9L718.5 626.0L719.5 626.2L720.5 625.9L721.5 625.5L722.5 625.4L723.5 625.3L724.5 625.6L725.5 625.8L726.5 626.2L727.5 626.3L728.5 626.4L729.5 626.2L730.5 626.2L731.5 626.1L732.5 626.3L733.5 626.4L734.5 626.2L735.5 626.0L736.5 625.9L737.5 626.1L738.5 626.2L739.5 626.2L740.5 626.4L741.5 626.8L742.5 627.2L743.5 626.9L744.5 626.4L745.5 625.9L746.5 625.5L747.5 625.8L748.5 626.1L749.5 626.5L750.5 626.2L751.5 626.1L752.5 626.0L753.5 626.1L754.5 626.0L755.5 625.8L756.5 625.8L757.5 626.3L758.5 627.0L759.5 627.4L760.5 627.4L761.5 627.4L762.5 627.6L763.5 627.8L764.5 627.9L765.5 627.7L766.5 627.5L767.5 627.4L768.5 627.4L769.5 627.5L770.5 627.3L771.5 626.9L772.5 626.6L773.5 626.8L774.5 627.2L775.5 627.8L776.5 628.2L777.5 628.6L778.5 629.1L779.5 629.6L780.5 630.1L781.5 630.2L782.5 630.0L783.5 629.6L784.5 629.4L785.5 629.3L786.5 629.1L787.5 628.7L788.5 628.1L789.5 627.6L790.5 627.3L791.5 627.2L792.5 627.0L793.5 627.0L794.5 627.2L795.5 627.7L796.5 627.9L797.5 627.9L798.5 627.7L799.5 628.0L800.5 628.3L801.5 628.9L802.5 629.2L803.5 629.5L804.5 629.5L805.5 629.6L806.5 629.5L807.5 629.7L808.5 629.7L809.5 629.9L810.5 629.8L811.5 629.8L812.5 629.8L813.5 630.0L814.5 630.2L815.5 630.4L816.5 630.3L817.5 630.4L818.5 630.4L819.5 630.2L820.5 630.0L821.5 629.9L822.5 630.1L823.5 630.1L824.5 629.9L825.5 630.1L826.5 630.4L827.5 630.8L828.5 630.6L829.5 630.2L830.5 630.3L831.5 630.4L832.5 630.3L833.5 629.7L834.5 629.3L835.5 629.3L836.5 629.3L837.5 629.3L838.5 629.3L839.5 629.6L840.5 629.9L841.5 629.7L842.5 630.0L843.5 630.1L844.5 630.5L845.5 630.3L846.5 630.1L847.5 629.9L848.5 629.8L849.5 629.5L850.5 629.2L851.5 629.0L852.5 629.0L853.5 629.3L854.5 629.2L855.5 629.0L856.5 628.5L857.5 628.2L858.5 628.1L859.5 628.3L860.5 628.9L861.5 629.3L862.5 629.7L863.5 629.9L864.5 630.0L865.5 630.1L866.5 630.1L867.5 630.3L868.5 630.7L869.5 631.2L870.5 631.2L871.5 631.1L872.5 630.8L873.5 630.9L874.5 631.0L875.5 631.1L876.5 631.0L877.5 631.0L878.5 631.1L879.5 631.1L880.5 630.9L881.5 630.8L882.5 630.6L883.5 630.4L884.5 630.2L885.5 630.2L886.5 630.4L887.5 631.0L888.5 631.5L889.5 631.9L890.5 631.8L891.5 631.8L892.5 631.7L893.5 631.8L894.5 632.0L895.5 632.3L896.5 632.3L897.5 631.9L898.5 631.6L899.5 631.5L900.5 631.0L901.5 630.8L902.5 630.6L903.5 631.3L904.5 631.9L905.5 632.4L906.5 632.4L907.5 632.4L908.5 632.1L909.5 631.8L910.5 631.5L911.5 631.7L912.5 631.8L913.5 631.8L914.5 631.6L915.5 631.6L916.5 631.6L917.5 631.6L918.5 631.5L919.5 631.1L920.5 631.0L921.5 630.9L922.5 631.1L923.5 630.9L924.5 631.0L925.5 630.9L926.5 630.8L927.5 630.4L928.5 630.6L929.5 630.9L930.5 631.1L931.5 631.2L932.5 631.4L933.5 632.1L934.5 632.4L935.5 632.5L936.5 632.3L937.5 632.4L938.5 632.4L939.5 632.4L940.5 632.1L941.5 632.0L942.5 631.9L943.5 631.9L944.5 632.0L945.5 632.1L946.5 632.0L947.5 631.9L948.5 631.7L949.5 631.8L950.5 632.0L951.5 632.0L952.5 631.6L953.5 631.0L954.5 630.7L955.5 631.1L956.5 631.6L957.5 631.8L958.5 631.4L959.5 630.8L960.5 630.4L961.5 630.2L962.5 630.4L963.5 630.9L964.5 631.0L965.5 631.1L966.5 631.0L967.5 631.1L968.5 630.8L969.5 630.3L970.5 629.8L971.5 629.9L972.5 630.5L973.5 630.8L974.5 630.7L975.5 630.3L976.5 630.2L977.5 630.3L978.5 630.6L979.5 630.7L980.4 630.7"/>
<path d="M100.5 800.1L101.5 800.1L102.5 800.0L103.5 799.5L104.5 799.0L105.5 798.7L106.5 798.1L107.5 797.3L108.5 796.2L109.5 795.5L110.5 794.7L111.5 794.3L112.5 794.1L113.5 794.1L114.5 794.2L115.5 794.1L116.5 793.2L117.5 792.0L118.5 790.6L119.5 789.7L120.5 788.9L121.5 788.3L122.5 787.7L123.5 787.1L124.5 786.4L125.5 785.4L126.5 784.5L127.5 783.9L128.5 783.6L129.5 783.2L130.5 782.4L131.5 781.4L132.5 779.9L133.5 778.8L134.5 777.7L135.5 777.1L136.5 775.8L137.5 774.3L138.5 772.5L139.5 771.1L140.5 769.9L141.5 769.1L142.5 768.3L143.5 767.5L144.5 766.3L145.5 765.2L146.5 763.9L147.5 762.7L148.5 761.4L149.5 760.1L150.5 759.1L151.5 757.9L152.5 757.1L153.5 755.6L154.5 754.4L155.5 752.4L156.5 750.8L157.5 749.0L158.5 747.7L159.5 746.4L160.5 745.3L161.5 743.7L162.5 742.2L163.5 740.4L164.5 738.9L165.5 737.0L166.5 735.3L167.5 733.5L168.5 732.0L169.5 730.1L170.5 728.0L171.5 725.5L172.5 723.6L173.5 722.1L174.5 720.7L175.5 719.0L176.5 717.3L177.5 715.5L178.5 713.8L179.5 711.7L180.5 709.4L181.5 707.2L182.5 704.7L183.5 701.9L184.5 699.0L185.5 696.3L186.5 694.1L187.5 692.2L188.5 690.5L189.5 688.7L190.5 686.6L191.5 684.2L192.5 681.4L193.5 678.5L194.5 675.8L195.5 673.4L196.5 671.1L197.5 668.8L198.5 666.2L199.5 663.6L200.5 661.3L201.5 659.2L202.5 657.2L203.5 655.1L204.5 652.9L205.5 650.6L206.5 648.5L207.5 646.5L208.5 644.6L209.5 642.3L210.5 640.2L211.5 637.6L212.5 635.0L213.5 631.9L214.5 629.1L215.5 625.9L216.5 622.8L217.5 619.7L218.5 617.0L219.5 614.3L220.5 611.6L221.5 608.9L222.5 606.2L223.5 603.8L224.5 601.8L225.5 599.7L226.5 597.6L227.5 595.1L228.5 593.2L229.5 591.0L230.5 588.7L231.5 585.8L232.5 583.0L233.5 580.1L234.5 577.7L235.5 575.5L236.5 573.6L237.5 571.5L238.5 569.6L239.5 568.0L240.5 566.2L241.5 564.2L242.5 561.9L243.5 560.0L244.5 558.1L245.5 556.3L246.5 555.0L247.5 553.8L248.5 552.4L249.5 550.5L250.5 548.7L251.5 547.7L252.5 547.2L253.5 546.7L254.5 545.9L255.5 544.7L256.5 543.4L257.5 542.2L258.5 541.0L259.5 540.3L260.5 539.7L261.5 539.2L262.5 537.9L263.5 536.4L264.5 534.9L265.5 534.0L266.5 533.3L267.5 533.1L268.5 532.9L269.5 532.8L270.5 532.3L271.5 531.7L272.5 531.2L273.5 531.2L274.5 531.6L275.5 531.8L276.5 532.1L277.5 532.1L278.5 532.2L279.5 531.8L280.5 531.4L281.5 531.0L282.5 531.5L283.5 532.4L284.5 533.3L285.5 533.6L286.5 533.8L287.5 533.9L288.5 534.3L289.5 534.7L290.5 535.4L291.5 535.6L292.5 535.8L293.5 536.0L294.5 536.3L295.5 536.7L296.5 537.1L297.5 537.7L298.5 538.2L299.5 538.8L300.5 539.5L301.5 540.1L302.5 540.4L303.5 540.8L304.5 541.0L305.5 541.7L306.5 542.4L307.5 543.8L308.5 544.7L309.5 545.8L310.5 546.5L311.5 547.6L312.5 548.7L313.5 550.1L314.5 551.5L315.5 552.7L316.5 553.4L317.5 554.2L318.5 554.8L319.5 555.8L320.5 556.6L321.5 557.5L322.5 558.5L323.5 559.6L324.5 560.6L325.5 561.5L326.5 562.4L327.5 563.2L328.5 564.1L329.5 565.1L330.5 566.1L331.5 567.1L332.5 568.0L333.5 569.1L334.5 570.6L335.5 571.8L336.5 573.2L337.5 574.1L338.5 575.7L339.5 576.7L340.5 577.7L341.5 577.9L342.5 578.5L343.5 579.1L344.5 580.0L345.5 580.8L346.5 581.8L347.5 582.8L348.5 583.7L349.5 584.7L350.5 585.9L351.5 587.2L352.5 588.6L353.5 589.8L354.5 590.8L355.5 591.9L356.5 593.3L357.5 594.8L358.5 596.4L359.5 597.9L360.5 599.7L361.5 601.1L362.5 602.7L363.5 604.0L364.5 605.4L365.5 606.3L366.5 607.5L367.5 608.9L368.5 610.9L369.5 612.8L370.5 614.5L371.5 615.5L372.5 616.2L373.5 617.0L374.5 618.2L375.5 619.5L376.5 620.8L377.5 621.6L378.5 622.3L379.5 623.3L380.5 624.6L381.5 625.9L382.5 627.0L383.5 628.0L384.5 628.9L385.5 629.7L386.5 630.6L387.5 631.7L388.5 633.1L389.5 634.1L390.5 635.5L391.5 636.7L392.5 638.2L393.5 639.2L394.5 640.0L395.5 640.6L396.5 641.7L397.5 642.8L398.5 644.2L399.5 645.7L400.5 647.0L401.5 648.3L402.5 649.1L403.5 649.9L404.5 650.7L405.5 651.8L406.5 652.9L407.5 654.0L408.5 654.9L409.5 656.2L410.5 657.5L411.5 658.6L412.5 659.1L413.5 659.9L414.5 661.0L415.5 662.3L416.5 663.2L417.5 663.9L418.5 664.4L419.5 664.8L420.5 665.1L421.5 665.6L422.5 666.7L423.5 668.1L424.5 669.2L425.5 670.2L426.5 670.8L427.5 671.5L428.5 671.9L429.5 672.7L430.5 673.6L431.5 674.7L432.5 676.0L433.5 677.2L434.5 678.3L435.5 679.5L436.5 680.9L437.5 682.2L438.5 682.9L439.5 683.8L440.5 685.1L441.5 686.3L442.5 687.4L443.5 688.0L444.5 688.8L445.5 689.4L446.5 690.1L447.5 691.0L448.5 692.3L449.5 693.4L450.5 694.3L451.5 695.0L452.5 695.7L453.5 696.2L454.5 696.4L455.5 696.5L456.5 696.9L457.5 697.6L458.5 698.2L459.5 698.9L460.5 699.5L461.5 700.3L462.5 700.8L463.5 701.6L464.5 702.2L465.5 703.5L466.5 704.5L467.5 705.2L468.5 705.8L469.5 706.5L470.5 707.2L471.5 707.6L472.5 708.2L473.5 709.0L474.5 710.1L475.5 710.9L476.5 711.7L477.5 712.3L478.5 713.0L479.5 713.6L480.5 714.5L481.5 715.4L482.5 716.4L483.5 717.4L484.5 718.3L485.5 719.0L486.5 719.5L487.5 720.3L488.5 720.9L489.5 721.6L490.5 722.1L491.5 722.6L492.5 722.9L493.5 723.5L494.5 723.9L495.5 724.4L496.5 724.4L497.5 724.7L498.5 724.9L499.5 725.4L500.5 725.9L501.5 726.9L502.5 727.6L503.5 728.1L504.5 728.1L505.5 728.3L506.5 728.6L507.5 729.1L508.5 729.5L509.5 729.7L510.5 730.1L511.5 730.6L512.5 731.1L513.5 731.3L514.5 731.5L515.5 731.8L516.5 732.4L517.5 732.9L518.5 733.4L519.5 733.9L520.5 734.8L521.5 735.7L522.5 736.7L523.5 737.3L524.5 738.2L525.5 738.8L526.5 739.5L527.5 739.5L528.5 739.1L529.5 738.6L530.5 738.5L531.5 739.5L532.5 740.3L533.5 741.2L534.5 741.4L535.5 741.9L536.5 741.6L537.5 741.7L538.5 741.4L539.5 741.9L540.5 742.4L541.5 742.9L542.5 743.1L543.5 743.3L544.5 743.8L545.5 744.3L546.5 744.7L547.5 744.9L548.5 744.8L549.5 744.3L550.5 744.0L551.5 744.3L552.5 745.0L553.5 745.4L554.5 745.4L555.5 745.3L556.5 745.5L557.5 745.6L558.5 746.0L559.5 746.5L560.5 747.1L561.5 747.1L562.5 746.9L563.5 746.9L564.5 747.5L565.5 748.3L566.5 748.9L567.5 749.1L568.5 749.2L569.5 749.4L570.5 749.8L571.5 750.7L572.5 751.3L573.5 751.6L574.5 751.3L575.5 751.3L576.5 751.2L577.5 751.0L578.5 750.8L579.5 751.0L580.5 751.4L581.5 751.9L582.5 752.3L583.5 752.6L584.5 752.8L585.5 752.7L586.5 752.6L587.5 752.8L588.5 753.1L589.5 753.5L590.5 753.6L591.5 753.6L592.5 753.4L593.5 753.6L594.5 754.1L595.5 755.1L596.5 755.9L597.5 756.5L598.5 756.8L599.5 757.3L600.5 757.6L601.5 757.6L602.5 757.5L603.5 757.4L604.5 757.6L605.5 758.0L606.5 758.5L607.5 759.1L608.5 759.4L609.5 759.6L610.5 759.5L611.5 759.4L612.5 759.4L613.5 759.6L614.5 760.1L615.5 760.6L616.5 761.2L617.5 761.2L618.5 760.9L619.5 760.5L620.5 760.3L621.5 760.6L622.5 760.9L623.5 761.6L624.5 762.0L625.5 762.4L626.5 762.5L627.5 762.4L628.5 762.3L629.5 762.4L630.5 762.4L631.5 762.5L632.5 762.6L633.5 763.0L634.5 763.2L635.5 762.9L636.5 762.3L637.5 762.0L638.5 762.2L639.5 762.7L640.5 763.2L641.5 763.8L642.5 764.1L643.5 764.3L644.5 764.0L645.5 764.0L646.5 764.0L647.5 764.2L648.5 764.4L649.5 764.7L650.5 765.1L651.5 765.3L652.5 765.5L653.5 765.7L654.5 765.8L655.5 766.0L656.5 766.1L657.5 766.2L658.5 765.9L659.5 765.5L660.5 765.0L661.5 764.9L662.5 765.0L663.5 765.1L664.5 765.0L665.5 764.9L666.5 765.2L667.5 765.4L668.5 765.6L669.5 765.5L670.5 765.4L671.5 765.0L672.5 764.8L673.5 764.9L674.5 765.5L675.5 766.1L676.5 766.2L677.5 765.8L678.5 765.3L679.5 765.2L680.5 765.1L681.5 765.3L682.5 765.5L683.5 766.0L684.5 766.4L685.5 766.6L686.5 766.4L687.5 766.1L688.5 766.2L689.5 766.8L690.5 767.5L691.5 768.0L692.5 768.0L693.5 768.3L694.5 768.5L695.5 768.8L696.5 768.8L697.5 768.7L698.5 768.6L699.5 768.3L700.5 768.2L701.5 768.3L702.5 768.8L703.5 769.1L704.5 769.5L705.5 769.7L706.5 769.9L707.5 769.9L708.5 770.1L709.5 770.5L710.5 770.6L711.5 770.2L712.5 769.7L713.5 769.7L714.5 770.2L715.5 770.5L716.5 770.6L717.5 770.2L718.5 770.3L719.5 770.3L720.5 770.7L721.5 770.6L722.5 770.4L723.5 769.7L724.5 769.4L725.5 769.2L726.5 769.5L727.5 770.0L728.5 770.7L729.5 770.8L730.5 770.6L731.5 770.1L732.5 770.1L733.5 770.4L734.5 771.0L735.5 771.0L736.5 770.8L737.5 770.2L738.5 769.8L739.5 770.0L740.5 770.4L741.5 770.9L742.5 771.0L743.5 771.3L744.5 771.4L745.5 771.6L746.5 771.4L747.5 771.3L748.5 771.3L749.5 771.6L750.5 772.1L751.5 772.4L752.5 772.5L753.5 772.2L754.5 772.2L755.5 772.2L756.5 772.4L757.5 772.4L758.5 772.5L759.5 772.6L760.5 772.5L761.5 772.5L762.5 772.4L763.5 772.6L764.5 772.7L765.5 772.8L766.5 772.7L767.5 772.6L768.5 772.2L769.5 771.9L770.5 771.8L771.5 771.9L772.5 772.1L773.5 772.2L774.5 772.5L775.5 772.7L776.5 773.0L777.5 773.2L778.5 773.7L779.5 773.9L780.5 774.2L781.5 774.3L782.5 774.5L783.5 774.5L784.5 774.7L785.5 774.5L786.5 774.5L787.5 774.4L788.5 774.4L789.5 774.8L790.5 775.1L791.5 775.3L792.5 775.0L793.5 774.9L794.5 774.7L795.5 774.7L796.5 774.5L797.5 774.7L798.5 775.0L799.5 775.4L800.5 775.5L801.5 775.5L802.5 775.0L803.5 774.6L804.5 774.1L805.5 774.1L806.5 774.1L807.5 774.0L808.5 774.1L809.5 774.5L810.5 775.0L811.5 775.3L812.5 775.0L813.5 775.0L814.5 775.1L815.5 775.5L816.5 775.6L817.5 775.6L818.5 775.5L819.5 775.6L820.5 775.7L821.5 776.1L822.5 776.2L823.5 776.7L824.5 776.9L825.5 777.3L826.5 777.2L827.5 777.2L828.5 776.9L829.5 777.0L830.5 776.9L831.5 777.1L832.5 776.9L833.5 776.8L834.5 776.2L835.5 776.3L836.5 776.0L837.5 776.1L838.5 775.5L839.5 775.6L840.5 775.6L841.5 776.1L842.5 776.0L843.5 775.8L844.5 775.4L845.5 775.3L846.5 775.5L847.5 775.9L848.5 776.0L849.5 776.0L850.5 775.7L851.5 775.6L852.5 775.7L853.5 776.0L854.5 776.3L855.5 776.0L856.5 775.6L857.5 775.4L858.5 775.4L859.5 775.5L860.5 775.3L861.5 775.3L862.5 775.6L863.5 775.9L864.5 776.1L865.5 775.9L866.5 776.1L867.5 776.0L868.5 776.1L869.5 776.4L870.5 776.7L871.5 776.8L872.5 776.5L873.5 776.5L874.5 776.9L875.5 777.0L876.5 776.8L877.5 776.5L878.5 777.0L879.5 777.3L880.5 777.5L881.5 777.2L882.5 777.2L883.5 777.5L884.5 777.8L885.5 777.6L886.5 777.2L887.5 777.2L888.5 777.5L889.5 777.5L890.5 777.3L891.5 777.3L892.5 777.4L893.5 777.5L894.5 777.3L895.5 777.3L896.5 777.3L897.5 777.3L898.5 777.2L899.5 777.4L900.5 777.6L901.5 777.9L902.5 777.9L903.5 777.7L904.5 777.8L905.5 777.9L906.5 778.2L907.5 778.4L908.5 778.5L909.5 778.3L910.5 777.9L911.5 777.7L912.5 777.8L913.5 777.7L914.5 777.3L915.5 776.8L916.5 776.9L917.5 777.6L918.5 778.1L919.5 778.3L920.5 778.0L921.5 778.2L922.5 778.2L923.5 778.4L924.5 778.2L925.5 777.9L926.5 777.6L927.5 777.2L928.5 777.4L929.5 777.7L930.5 778.5L931.5 779.0L932.5 779.2L933.5 779.1L934.5 778.9L935.5 778.8L936.5 778.9L937.5 778.9L938.5 778.7L939.5 778.5L940.5 778.4L941.5 778.5L942.5 778.8L943.5 779.1L944.5 779.0L945.5 778.4L946.5 777.7L947.5 777.2L948.5 777.2L949.5 777.2L950.5 777.3L951.5 777.6L952.5 777.7L953.5 777.6L954.5 777.5L955.5 777.3L956.5 777.4L957.5 777.5L958.5 778.0L959.5 778.5L960.5 778.6L961.5 778.5L962.5 778.2L963.5 778.2L964.5 778.3L965.5 778.6L966.5 778.8L967.5 779.2L968.5 779.3L969.5 779.1L970.5 778.2L971.5 777.9L972.5 778.1L973.5 778.8L974.5 778.9L975.5 778.6L976.5 778.0L977.5 777.7L978.5 777.7L979.5 777.7L980.4 777.7"/>
<path d="M100.5 964.2L101.5 963.8L102.5 963.3L103.5 962.4L104.5 961.4L105.5 960.3L106.5 959.4L107.5 958.1L108.5 956.7L109.5 955.3L110.5 953.9L111.5 952.6L112.5 951.2L113.5 950.1L114.5 949.2L115.5 948.6L116.5 947.5L117.5 946.3L118.5 944.5L119.5 942.8L120.5 941.3L121.5 940.5L122.5 939.8L123.5 938.9L124.5 937.7L125.5 936.4L126.5 935.0L127.5 933.7L128.5 932.6L129.5 931.6L130.5 930.3L131.5 928.8L132.5 927.0L133.5 925.1L134.5 923.6L135.5 921.8L136.5 920.3L137.5 918.7L138.5 917.6L139.5 916.4L140.5 914.8L141.5 913.2L142.5 911.8L143.5 910.8L144.5 909.5L145.5 908.0L146.5 906.8L147.5 905.7L148.5 904.6L149.5 902.8L150.5 901.2L151.5 899.7L152.5 898.8L153.5 897.8L154.5 896.6L155.5 895.2L156.5 893.8L157.5 892.8L158.5 891.7L159.5 890.6L160.5 889.4L161.5 888.6L162.5 887.7L163.5 886.9L164.5 886.0L165.5 885.2L166.5 884.1L167.5 882.9L168.5 881.8L169.5 880.6L170.5 879.4L171.5 877.7L172.5 876.4L173.5 875.2L174.5 874.3L175.5 873.3L176.5 872.0L177.5 870.8L178.5 869.7L179.5 869.0L180.5 867.7L181.5 865.9L182.5 863.9L183.5 862.3L184.5 860.9L185.5 859.4L186.5 857.6L187.5 855.7L188.5 853.8L189.5 852.2L190.5 850.2L191.5 848.4L192.5 846.1L193.5 844.2L194.5 842.3L195.5 840.7L196.5 838.9L197.5 836.9L198.5 834.3L199.5 831.8L200.5 829.1L201.5 827.2L202.5 825.1L203.5 822.9L204.5 820.4L205.5 818.1L206.5 816.4L207.5 814.7L208.5 812.8L209.5 810.6L210.5 808.4L211.5 806.8L212.5 805.1L213.5 803.5L214.5 801.4L215.5 799.7L216.5 797.9L217.5 796.3L218.5 794.2L219.5 792.4L220.5 790.3L221.5 788.2L222.5 785.6L223.5 783.2L224.5 781.4L225.5 779.8L226.5 777.9L227.5 775.2L228.5 772.2L229.5 769.0L230.5 766.0L231.5 763.4L232.5 760.6L233.5 758.1L234.5 755.6L235.5 754.1L236.5 752.6L237.5 751.1L238.5 748.8L239.5 746.3L240.5 743.8L241.5 741.3L242.5 739.3L243.5 737.5L244.5 736.0L245.5 734.1L246.5 732.1L247.5 730.3L248.5 728.7L249.5 726.9L250.5 724.8L251.5 722.7L252.5 721.1L253.5 719.6L254.5 718.0L255.5 716.4L256.5 714.9L257.5 713.8L258.5 712.8L259.5 712.1L260.5 711.3L261.5 710.8L262.5 710.1L263.5 709.0L264.5 707.7L265.5 706.5L266.5 705.8L267.5 705.5L268.5 705.4L269.5 704.9L270.5 704.0L271.5 702.8L272.5 701.7L273.5 700.8L274.5 699.9L275.5 699.1L276.5 698.3L277.5 698.0L278.5 697.3L279.5 697.2L280.5 696.7L281.5 696.9L282.5 696.6L283.5 696.6L284.5 696.4L285.5 696.6L286.5 696.8L287.5 696.9L288.5 696.7L289.5 696.6L290.5 696.9L291.5 697.6L292.5 698.3L293.5 698.9L294.5 699.4L295.5 699.9L296.5 700.5L297.5 701.5L298.5 702.5L299.5 703.5L300.5 703.9L301.5 704.5L302.5 704.5L303.5 704.7L304.5 705.0L305.5 705.9L306.5 707.0L307.5 707.8L308.5 708.3L309.5 708.4L310.5 708.4L311.5 708.7L312.5 709.9L313.5 711.0L314.5 712.0L315.5 712.9L316.5 713.9L317.5 715.2L318.5 716.1L319.5 716.8L320.5 717.0L321.5 717.6L322.5 718.3L323.5 719.3L324.5 720.3L325.5 721.5L326.5 722.4L327.5 723.5L328.5 724.3L329.5 725.0L330.5 725.5L331.5 725.9L332.5 727.2L333.5 728.7L334.5 730.3L335.5 731.3L336.5 732.4L337.5 733.4L338.5 734.6L339.5 735.4L340.5 736.2L341.5 737.1L342.5 737.9L343.5 738.5L344.5 739.1L345.5 740.1L346.5 741.0L347.5 742.2L348.5 743.3L349.5 744.5L350.5 745.3L351.5 745.8L352.5 746.8L353.5 748.1L354.5 749.9L355.5 751.3L356.5 752.3L357.5 753.0L358.5 753.8L359.5 755.1L360.5 756.1L361.5 757.1L362.5 757.7L363.5 758.4L364.5 758.9L365.5 759.4L366.5 760.1L367.5 761.0L368.5 762.2L369.5 763.4L370.5 764.1L371.5 764.8L372.5 765.6L373.5 767.1L374.5 768.5L375.5 769.8L376.5 770.7L377.5 771.9L378.5 773.4L379.5 775.2L380.5 776.8L381.5 778.1L382.5 779.0L383.5 780.0L384.5 781.1L385.5 782.3L386.5 783.6L387.5 785.1L388.5 786.0L389.5 786.9L390.5 787.3L391.5 788.1L392.5 788.9L393.5 790.6L394.5 792.3L395.5 793.8L396.5 794.6L397.5 795.0L398.5 795.4L399.5 796.1L400.5 797.0L401.5 798.1L402.5 798.9L403.5 799.6L404.5 800.0L405.5 800.5L406.5 801.1L407.5 802.2L408.5 803.5L409.5 805.0L410.5 806.2L411.5 807.5L412.5 808.4L413.5 809.4L414.5 810.0L415.5 810.9L416.5 811.5L417.5 812.1L418.5 812.5L419.5 812.9L420.5 813.7L421.5 814.7L422.5 815.6L423.5 816.4L424.5 817.4L425.5 818.4L426.5 819.5L427.5 820.1L428.5 820.6L429.5 820.9L430.5 821.6L431.5 822.3L432.5 823.4L433.5 824.6L434.5 825.7L435.5 826.5L436.5 827.6L437.5 828.9L438.5 830.3L439.5 831.2L440.5 831.9L441.5 832.2L442.5 832.8L443.5 833.6L444.5 834.6L445.5 835.7L446.5 836.2L447.5 836.9L448.5 837.2L449.5 838.1L450.5 838.9L451.5 839.5L452.5 839.9L453.5 840.1L454.5 841.1L455.5 842.0L456.5 843.3L457.5 843.6L458.5 844.0L459.5 844.0L460.5 844.7L461.5 845.5L462.5 846.6L463.5 847.3L464.5 847.9L465.5 848.3L466.5 848.9L467.5 849.3L468.5 849.5L469.5 849.8L470.5 850.3L471.5 851.0L472.5 851.7L473.5 852.5L474.5 852.9L475.5 853.7L476.5 854.3L477.5 855.1L478.5 855.5L479.5 855.6L480.5 855.8L481.5 856.3L482.5 856.9L483.5 857.6L484.5 857.8L485.5 858.2L486.5 858.1L487.5 858.8L488.5 859.4L489.5 860.6L490.5 861.1L491.5 861.5L492.5 861.5L493.5 861.8L494.5 862.2L495.5 863.0L496.5 863.7L497.5 864.2L498.5 864.3L499.5 864.5L500.5 864.9L501.5 865.5L502.5 866.1L503.5 866.5L504.5 866.8L505.5 867.1L506.5 867.7L507.5 868.3L508.5 868.9L509.5 868.9L510.5 868.8L511.5 868.9L512.5 869.5L513.5 869.9L514.5 869.9L515.5 869.9L516.5 870.4L517.5 871.1L518.5 871.6L519.5 872.2L520.5 872.7L521.5 873.3L522.5 873.5L523.5 873.7L524.5 874.1L525.5 874.8L526.5 874.9L527.5 874.7L528.5 874.5L529.5 874.7L530.5 875.4L531.5 875.9L532.5 876.4L533.5 876.8L534.5 877.1L535.5 877.2L536.5 877.3L537.5 877.5L538.5 877.8L539.5 878.2L540.5 878.3L541.5 878.5L542.5 878.7L543.5 878.7L544.5 878.8L545.5 879.0L546.5 879.9L547.5 880.7L548.5 881.2L549.5 881.1L550.5 881.1L551.5 880.9L552.5 881.1L553.5 881.4L554.5 882.0L555.5 882.4L556.5 882.7L557.5 882.7L558.5 882.8L559.5 882.6L560.5 882.5L561.5 882.5L562.5 882.7L563.5 883.2L564.5 883.6L565.5 883.9L566.5 884.1L567.5 884.0L568.5 884.0L569.5 883.8L570.5 884.1L571.5 884.2L572.5 884.6L573.5 884.7L574.5 884.7L575.5 884.5L576.5 884.7L577.5 885.3L578.5 886.1L579.5 886.7L580.5 887.1L581.5 887.3L582.5 887.1L583.5 886.7L584.5 886.4L585.5 886.5L586.5 886.9L587.5 887.4L588.5 887.7L589.5 887.9L590.5 888.1L591.5 888.4L592.5 888.6L593.5 888.7L594.5 888.6L595.5 888.5L596.5 888.7L597.5 889.1L598.5 889.3L599.5 889.7L600.5 890.0L601.5 890.3L602.5 890.3L603.5 890.2L604.5 890.2L605.5 890.6L606.5 891.3L607.5 892.0L608.5 892.4L609.5 892.4L610.5 892.5L611.5 892.5L612.5 892.6L613.5 892.6L614.5 892.8L615.5 893.1L616.5 893.5L617.5 893.5L618.5 893.5L619.5 893.6L620.5 894.5L621.5 895.1L622.5 895.1L623.5 894.6L624.5 894.2L625.5 894.3L626.5 894.4L627.5 894.9L628.5 895.2L629.5 895.5L630.5 895.4L631.5 895.1L632.5 894.9L633.5 894.8L634.5 894.9L635.5 895.2L636.5 895.6L637.5 896.0L638.5 896.3L639.5 896.9L640.5 897.3L641.5 897.4L642.5 897.1L643.5 896.8L644.5 896.8L645.5 897.3L646.5 898.1L647.5 898.8L648.5 899.3L649.5 899.5L650.5 899.3L651.5 899.1L652.5 898.7L653.5 898.7L654.5 899.0L655.5 899.6L656.5 900.3L657.5 901.0L658.5 901.7L659.5 902.0L660.5 902.0L661.5 901.9L662.5 902.0L663.5 902.2L664.5 902.3L665.5 902.7L666.5 903.2L667.5 903.8L668.5 904.1L669.5 904.1L670.5 903.8L671.5 903.7L672.5 903.7L673.5 904.2L674.5 904.4L675.5 905.0L676.5 905.2L677.5 905.2L678.5 905.2L679.5 905.2L680.5 905.8L681.5 906.1L682.5 906.5L683.5 906.6L684.5 906.9L685.5 907.2L686.5 907.0L687.5 906.9L688.5 906.5L689.5 906.6L690.5 906.6L691.5 906.8L692.5 907.1L693.5 907.3L694.5 907.4L695.5 907.0L696.5 907.2L697.5 907.3L698.5 907.9L699.5 908.0L700.5 908.2L701.5 908.4L702.5 908.8L703.5 909.1L704.5 908.9L705.5 908.9L706.5 909.0L707.5 909.5L708.5 910.0L709.5 910.1L710.5 909.9L711.5 909.3L712.5 909.2L713.5 909.5L714.5 910.2L715.5 910.8L716.5 911.2L717.5 911.4L718.5 911.5L719.5 911.2L720.5 911.3L721.5 911.3L722.5 911.7L723.5 911.8L724.5 912.3L725.5 912.6L726.5 912.9L727.5 912.8L728.5 913.1L729.5 913.5L730.5 913.8L731.5 913.8L732.5 914.1L733.5 914.5L734.5 914.9L735.5 914.8L736.5 914.5L737.5 914.4L738.5 914.9L739.5 915.5L740.5 915.8L741.5 915.7L742.5 915.7L743.5 915.2L744.5 915.1L745.5 914.8L746.5 915.0L747.5 915.0L748.5 915.1L749.5 914.5L750.5 914.2L751.5 914.0L752.5 914.4L753.5 914.5L754.5 914.6L755.5 914.5L756.5 914.8L757.5 915.1L758.5 915.4L759.5 915.6L760.5 915.5L761.5 915.5L762.5 915.6L763.5 916.2L764.5 916.5L765.5 916.5L766.5 915.8L767.5 915.6L768.5 916.0L769.5 917.0L770.5 918.0L771.5 918.6L772.5 918.9L773.5 919.0L774.5 919.3L775.5 919.5L776.5 919.4L777.5 919.2L778.5 919.1L779.5 919.4L780.5 919.8L781.5 919.7L782.5 919.4L783.5 919.3L784.5 919.3L785.5 919.4L786.5 918.7L787.5 918.0L788.5 917.3L789.5 917.2L790.5 917.3L791.5 917.9L792.5 918.3L793.5 918.6L794.5 918.6L795.5 918.7L796.5 918.8L797.5 918.8L798.5 918.5L799.5 918.0L800.5 917.8L801.5 917.9L802.5 918.3L803.5 918.7L804.5 918.5L805.5 918.6L806.5 918.8L807.5 919.4L808.5 919.7L809.5 919.9L810.5 919.7L811.5 919.7L812.5 919.9L813.5 920.3L814.5 920.9L815.5 921.5L816.5 921.9L817.5 922.1L818.5 922.2L819.5 922.2L820.5 921.9L821.5 921.8L822.5 921.9L823.5 922.4L824.5 922.7L825.5 923.0L826.5 923.2L827.5 923.3L828.5 923.2L829.5 922.8L830.5 922.8L831.5 922.9L832.5 922.9L833.5 922.6L834.5 922.1L835.5 921.7L836.5 921.5L837.5 921.6L838.5 921.7L839.5 921.7L840.5 921.4L841.5 921.2L842.5 921.2L843.5 921.4L844.5 921.8L845.5 921.9L846.5 922.1L847.5 921.8L848.5 921.9L849.5 921.8L850.5 922.2L851.5 922.7L852.5 923.2L853.5 923.5L854.5 923.7L855.5 924.0L856.5 924.3L857.5 924.5L858.5 924.5L859.5 924.5L860.5 924.5L861.5 924.6L862.5 924.9L863.5 925.3L864.5 925.6L865.5 925.4L866.5 925.0L867.5 924.7L868.5 924.9L869.5 925.1L870.5 925.3L871.5 925.1L872.5 925.0L873.5 924.8L874.5 924.8L875.5 925.1L876.5 925.4L877.5 925.4L878.5 925.0L879.5 924.5L880.5 924.1L881.5 924.1L882.5 924.1L883.5 924.1L884.5 923.9L885.5 923.9L886.5 924.2L887.5 924.5L888.5 924.5L889.5 924.0L890.5 923.3L891.5 922.9L892.5 923.0L893.5 923.5L894.5 923.9L895.5 924.2L896.5 924.0L897.5 923.8L898.5 923.5L899.5 923.2L900.5 923.4L901.5 923.9L902.5 924.6L903.5 924.9L904.5 925.4L905.5 925.5L906.5 925.3L907.5 925.0L908.5 925.0L909.5 925.2L910.5 925.5L911.5 925.7L912.5 926.0L913.5 926.0L914.5 925.8L915.5 925.5L916.5 925.2L917.5 925.1L918.5 924.9L919.5 925.0L920.5 925.2L921.5 925.3L922.5 925.3L923.5 924.9L924.5 924.6L925.5 924.3L926.5 924.0L927.5 923.9L928.5 923.9L929.5 924.3L930.5 924.8L931.5 925.4L932.5 925.8L933.5 926.0L934.5 925.9L935.5 925.6L936.5 925.4L937.5 925.2L938.5 925.1L939.5 925.3L940.5 925.6L941.5 925.7L942.5 925.7L943.5 925.4L944.5 925.0L945.5 924.4L946.5 924.1L947.5 923.8L948.5 924.0L949.5 924.1L950.5 924.2L951.5 924.0L952.5 923.5L953.5 923.1L954.5 923.0L955.5 923.4L956.5 923.4L957.5 923.3L958.5 923.0L959.5 923.3L960.5 923.9L961.5 924.2L962.5 924.3L963.5 924.0L964.5 924.1L965.5 924.2L966.5 924.6L967.5 924.7L968.5 924.8L969.5 924.6L970.5 924.2L971.5 924.0L972.5 924.1L973.5 924.2L974.5 924.1L975.5 923.9L976.5 924.0L977.5 924.5L978.5 925.1L979.5 925.0L980.5 924.4L981.5 923.7L982.5 923.7L983.5 923.9L984.5 924.0L985.0 924.1"/>
<path d="M100.5 1071.9L101.5 1072.1L102.5 1072.2L103.5 1072.2L104.5 1071.9L105.5 1071.4L106.5 1071.1L107.5 1071.0L108.5 1071.3L109.5 1071.5L110.5 1071.6L111.5 1071.4L112.5 1071.1L113.5 1070.8L114.5 1070.6L115.5 1070.5L116.5 1070.5L117.5 1070.0L118.5 1069.6L119.5 1069.0L120.5 1068.8L121.5 1068.6L122.5 1068.9L123.5 1068.8L124.5 1068.8L125.5 1068.5L126.5 1068.4L127.5 1068.7L128.5 1069.3L129.5 1070.0L130.5 1069.7L131.5 1069.2L132.5 1068.4L133.5 1068.3L134.5 1068.1L135.5 1068.3L136.5 1068.1L137.5 1067.7L138.5 1067.1L139.5 1066.6L140.5 1066.1L141.5 1065.8L142.5 1065.4L143.5 1065.1L144.5 1065.1L145.5 1065.3L146.5 1065.6L147.5 1065.7L148.5 1065.5L149.5 1065.4L150.5 1065.0L151.5 1064.8L152.5 1064.4L153.5 1064.2L154.5 1064.0L155.5 1064.1L156.5 1064.3L157.5 1064.7L158.5 1064.8L159.5 1064.6L160.5 1064.4L161.5 1064.8L162.5 1065.4L163.5 1065.7L164.5 1065.4L165.5 1064.6L166.5 1064.1L167.5 1064.1L168.5 1064.5L169.5 1064.6L170.5 1064.4L171.5 1064.0L172.5 1063.6L173.5 1063.5L174.5 1063.9L175.5 1064.4L176.5 1064.8L177.5 1064.4L178.5 1064.0L179.5 1063.2L180.5 1062.8L181.5 1062.5L182.5 1063.2L183.5 1063.7L184.5 1064.2L185.5 1063.8L186.5 1063.5L187.5 1063.1L188.5 1063.4L189.5 1063.1L190.5 1063.0L191.5 1062.8L192.5 1063.3L193.5 1063.5L194.5 1063.5L195.5 1063.5L196.5 1063.6L197.5 1063.9L198.5 1063.9L199.5 1063.8L200.5 1063.3L201.5 1062.7L202.5 1062.2L203.5 1062.0L204.5 1062.4L205.5 1062.9L206.5 1063.1L207.5 1062.7L208.5 1062.4L209.5 1062.2L210.5 1062.5L211.5 1062.7L212.5 1063.0L213.5 1063.0L214.5 1063.2L215.5 1063.3L216.5 1062.9L217.5 1062.2L218.5 1061.6L219.5 1061.6L220.5 1061.9L221.5 1062.2L222.5 1062.2L223.5 1062.1L224.5 1062.3L225.5 1062.6L226.5 1062.6L227.5 1062.2L228.5 1062.0L229.5 1062.2L230.5 1062.4L231.5 1062.7L232.5 1062.7L233.5 1062.8L234.5 1062.3L235.5 1061.7L236.5 1061.0L237.5 1060.9L238.5 1061.0L239.5 1061.2L240.5 1061.4L241.5 1061.3L242.5 1061.3L243.5 1060.9L244.5 1060.6L245.5 1060.5L246.5 1060.5L247.5 1060.7L248.5 1061.0L249.5 1061.1L250.5 1061.2L251.5 1060.9L252.5 1060.4L253.5 1059.8L254.5 1059.5L255.5 1059.6L256.5 1060.0L257.5 1060.0L258.5 1059.9L259.5 1059.3L260.5 1059.3L261.5 1059.5L262.5 1060.1L263.5 1060.0L264.5 1060.0L265.5 1059.9L266.5 1060.2L267.5 1060.0L268.5 1060.0L269.5 1059.9L270.5 1060.3L271.5 1060.6L272.5 1060.9L273.5 1060.7L274.5 1060.5L275.5 1060.4L276.5 1060.4L277.5 1060.4L278.5 1060.2L279.5 1060.2L280.5 1060.3L281.5 1060.6L282.5 1060.9L283.5 1060.8L284.5 1060.7L285.5 1060.4L286.5 1060.5L287.5 1060.5L288.5 1060.5L289.5 1060.4L290.5 1060.5L291.5 1060.6L292.5 1060.4L293.5 1060.1L294.5 1059.7L295.5 1059.6L296.5 1059.4L297.5 1059.4L298.5 1059.2L299.5 1059.0L300.5 1059.0L301.5 1059.2L302.5 1059.2L303.5 1059.1L304.5 1058.5L305.5 1058.0L306.5 1058.0L307.5 1058.5L308.5 1058.9L309.5 1058.9L310.5 1058.4L311.5 1058.2L312.5 1057.9L313.5 1058.1L314.5 1058.1L315.5 1058.2L316.5 1058.0L317.5 1057.7L318.5 1057.5L319.5 1057.4L320.5 1058.0L321.5 1058.8L322.5 1059.3L323.5 1058.7L324.5 1058.1L325.5 1057.4L326.5 1057.2L327.5 1057.0L328.5 1057.0L329.5 1057.3L330.5 1057.7L331.5 1058.2L332.5 1058.2L333.5 1057.9L334.5 1057.4L335.5 1057.3L336.5 1057.7L337.5 1058.4L338.5 1059.0L339.5 1059.1L340.5 1059.0L341.5 1058.8L342.5 1058.6L343.5 1058.6L344.5 1059.1L345.5 1059.4L346.5 1059.4L347.5 1059.0L348.5 1058.9L349.5 1058.9L350.5 1058.7L351.5 1058.1L352.5 1057.9L353.5 1057.8L354.5 1058.0L355.5 1057.6L356.5 1057.7L357.5 1057.7L358.5 1057.8L359.5 1057.3L360.5 1056.9L361.5 1056.6L362.5 1056.5L363.5 1056.2L364.5 1055.6L365.5 1055.1L366.5 1054.6L367.5 1054.3L368.5 1054.0L369.5 1053.9L370.5 1054.0L371.5 1054.3L372.5 1054.6L373.5 1054.6L374.5 1054.3L375.5 1053.8L376.5 1053.4L377.5 1053.0L378.5 1053.2L379.5 1053.7L380.5 1054.1L381.5 1054.1L382.5 1053.5L383.5 1053.1L384.5 1053.1L385.5 1053.1L386.5 1052.9L387.5 1052.6L388.5 1052.4L389.5 1052.7L390.5 1053.1L391.5 1053.0L392.5 1052.6L393.5 1052.4L394.5 1052.4L395.5 1052.5L396.5 1052.1L397.5 1051.7L398.5 1051.3L399.5 1051.5L400.5 1051.7L401.5 1051.7L402.5 1051.4L403.5 1051.2L404.5 1051.2L405.5 1051.2L406.5 1051.3L407.5 1051.5L408.5 1051.7L409.5 1051.8L410.5 1051.7L411.5 1051.3L412.5 1051.0L413.5 1050.7L414.5 1050.7L415.5 1050.6L416.5 1050.9L417.5 1051.0L418.5 1051.3L419.5 1051.3L420.5 1051.3L421.5 1051.2L422.5 1051.1L423.5 1050.8L424.5 1050.1L425.5 1049.8L426.5 1049.7L427.5 1049.6L428.5 1049.1L429.5 1048.3L430.5 1047.6L431.5 1047.3L432.5 1047.6L433.5 1047.6L434.5 1047.7L435.5 1047.2L436.5 1047.1L437.5 1046.8L438.5 1046.5L439.5 1046.3L440.5 1046.3L441.5 1046.3L442.5 1046.4L443.5 1046.2L444.5 1046.4L445.5 1046.4L446.5 1046.7L447.5 1046.6L448.5 1046.6L449.5 1046.4L450.5 1046.1L451.5 1045.6L452.5 1045.4L453.5 1045.6L454.5 1045.6L455.5 1045.4L456.5 1044.8L457.5 1044.5L458.5 1044.4L459.5 1044.5L460.5 1044.7L461.5 1045.0L462.5 1045.0L463.5 1044.7L464.5 1044.6L465.5 1044.5L466.5 1044.3L467.5 1043.7L468.5 1043.2L469.5 1042.8L470.5 1042.7L471.5 1042.9L472.5 1043.0L473.5 1042.7L474.5 1041.8L475.5 1041.1L476.5 1041.0L477.5 1041.1L478.5 1041.0L479.5 1040.8L480.5 1040.3L481.5 1040.2L482.5 1039.7L483.5 1039.3L484.5 1038.9L485.5 1038.4L486.5 1038.0L487.5 1037.5L488.5 1037.6L489.5 1037.8L490.5 1038.1L491.5 1038.2L492.5 1038.3L493.5 1038.5L494.5 1038.7L495.5 1038.4L496.5 1038.1L497.5 1037.8L498.5 1038.0L499.5 1038.3L500.5 1038.3L501.5 1038.2L502.5 1037.7L503.5 1037.4L504.5 1036.9L505.5 1036.7L506.5 1036.6L507.5 1036.4L508.5 1036.2L509.5 1036.1L510.5 1036.2L511.5 1036.5L512.5 1036.5L513.5 1036.4L514.5 1036.0L515.5 1035.9L516.5 1036.0L517.5 1036.0L518.5 1035.8L519.5 1035.1L520.5 1034.2L521.5 1033.2L522.5 1032.5L523.5 1032.6L524.5 1033.1L525.5 1033.6L526.5 1033.7L527.5 1033.7L528.5 1033.7L529.5 1033.6L530.5 1033.6L531.5 1033.3L532.5 1032.9L533.5 1032.3L534.5 1032.1L535.5 1031.8L536.5 1031.5L537.5 1031.3L538.5 1031.3L539.5 1031.7L540.5 1031.8L541.5 1031.6L542.5 1031.2L543.5 1030.8L544.5 1030.7L545.5 1031.1L546.5 1031.3L547.5 1031.4L548.5 1031.0L549.5 1030.9L550.5 1030.8L551.5 1030.8L552.5 1030.6L553.5 1030.5L554.5 1030.6L555.5 1030.6L556.5 1030.5L557.5 1030.2L558.5 1030.2L559.5 1029.8L560.5 1029.2L561.5 1028.2L562.5 1028.0L563.5 1028.1L564.5 1028.6L565.5 1028.8L566.5 1028.8L567.5 1028.6L568.5 1028.5L569.5 1028.3L570.5 1028.2L571.5 1028.1L572.5 1028.0L573.5 1027.8L574.5 1027.4L575.5 1026.8L576.5 1026.7L577.5 1026.9L578.5 1027.2L579.5 1027.3L580.5 1027.3L581.5 1027.2L582.5 1027.2L583.5 1027.1L584.5 1027.0L585.5 1026.9L586.5 1026.7L587.5 1026.5L588.5 1026.3L589.5 1026.1L590.5 1026.1L591.5 1026.2L592.5 1026.6L593.5 1026.6L594.5 1026.7L595.5 1026.5L596.5 1026.6L597.5 1026.5L598.5 1026.6L599.5 1026.5L600.5 1026.7L601.5 1026.5L602.5 1026.4L603.5 1026.0L604.5 1026.2L605.5 1026.5L606.5 1026.7L607.5 1026.7L608.5 1026.6L609.5 1026.4L610.5 1026.3L611.5 1026.1L612.5 1026.4L613.5 1026.8L614.5 1027.3L615.5 1027.6L616.5 1027.5L617.5 1027.3L618.5 1026.5L619.5 1026.2L620.5 1026.1L621.5 1026.7L622.5 1026.8L623.5 1026.6L624.5 1026.4L625.5 1026.5L626.5 1027.1L627.5 1027.2L628.5 1027.1L629.5 1026.6L630.5 1026.2L631.5 1026.3L632.5 1026.6L633.5 1027.0L634.5 1027.3L635.5 1027.3L636.5 1027.3L637.5 1027.1L638.5 1026.9L639.5 1027.1L640.5 1027.3L641.5 1027.7L642.5 1027.8L643.5 1027.8L644.5 1027.6L645.5 1027.5L646.5 1027.3L647.5 1027.2L648.5 1026.9L649.5 1026.6L650.5 1026.3L651.5 1026.1L652.5 1025.9L653.5 1025.6L654.5 1025.5L655.5 1025.5L656.5 1025.7L657.5 1025.9L658.5 1026.3L659.5 1026.4L660.5 1026.2L661.5 1026.1L662.5 1026.3L663.5 1026.8L664.5 1027.2L665.5 1027.5L666.5 1027.6L667.5 1027.5L668.5 1027.3L669.5 1027.3L670.5 1027.5L671.5 1027.9L672.5 1028.2L673.5 1028.3L674.5 1028.4L675.5 1028.3L676.5 1028.2L677.5 1027.9L678.5 1027.9L679.5 1028.1L680.5 1028.4L681.5 1028.5L682.5 1028.6L683.5 1028.6L684.5 1028.7L685.5 1028.6L686.5 1028.2L687.5 1028.3L688.5 1028.4L689.5 1028.8L690.5 1028.6L691.5 1028.4L692.5 1028.3L693.5 1028.5L694.5 1028.8L695.5 1029.1L696.5 1029.2L697.5 1029.2L698.5 1029.1L699.5 1029.1L700.5 1029.4L701.5 1029.3L702.5 1029.3L703.5 1029.1L704.5 1029.1L705.5 1029.3L706.5 1029.6L707.5 1030.0L708.5 1029.9L709.5 1029.9L710.5 1030.0L711.5 1030.4L712.5 1030.8L713.5 1031.1L714.5 1031.2L715.5 1031.0L716.5 1030.6L717.5 1030.4L718.5 1030.7L719.5 1031.4L720.5 1031.8L721.5 1031.7L722.5 1031.5L723.5 1031.5L724.5 1031.7L725.5 1031.7L726.5 1031.5L727.5 1031.4L728.5 1031.4L729.5 1031.8L730.5 1031.9L731.5 1031.9L732.5 1031.5L733.5 1031.4L734.5 1031.6L735.5 1031.9L736.5 1032.3L737.5 1032.8L738.5 1033.0L739.5 1032.9L740.5 1032.6L741.5 1032.5L742.5 1032.9L743.5 1033.3L744.5 1033.5L745.5 1033.4L746.5 1033.1L747.5 1032.8L748.5 1032.6L749.5 1032.5L750.5 1032.7L751.5 1033.0L752.5 1033.3L753.5 1033.3L754.5 1033.2L755.5 1033.2L756.5 1033.2L757.5 1033.3L758.5 1033.2L759.5 1033.4L760.5 1033.6L761.5 1034.0L762.5 1034.3L763.5 1034.5L764.5 1034.3L765.5 1034.2L766.5 1034.2L767.5 1034.5L768.5 1034.8L769.5 1035.1L770.5 1035.5L771.5 1035.6L772.5 1035.5L773.5 1035.2L774.5 1034.9L775.5 1034.7L776.5 1034.9L777.5 1035.0L778.5 1035.3L779.5 1035.2L780.5 1035.2L781.5 1035.0L782.5 1035.1L783.5 1035.1L784.5 1035.0L785.5 1034.9L786.5 1034.7L787.5 1034.8L788.5 1034.5L789.5 1034.3L790.5 1034.4L791.5 1034.8L792.5 1035.4L793.5 1035.4L794.5 1035.9L795.5 1036.2L796.5 1037.1L797.5 1037.2L798.5 1037.4L799.5 1036.8L800.5 1036.8L801.5 1036.7L802.5 1036.9L803.5 1036.7L804.5 1036.3L805.5 1035.9L806.5 1035.8L807.5 1035.9L808.5 1036.0L809.5 1036.1L810.5 1036.4L811.5 1036.7L812.5 1036.8L813.5 1036.7L814.5 1036.7L815.5 1036.7L816.5 1036.9L817.5 1037.1L818.5 1037.4L819.5 1037.6L820.5 1037.7L821.5 1037.8L822.5 1038.0L823.5 1037.9L824.5 1037.5L825.5 1037.1L826.5 1037.1L827.5 1036.9L828.5 1036.8L829.5 1036.6L830.5 1036.3L831.5 1036.0L832.5 1035.6L833.5 1035.8L834.5 1036.3L835.5 1037.3L836.5 1037.6L837.5 1037.7L838.5 1037.4L839.5 1037.5L840.5 1037.5L841.5 1037.4L842.5 1037.0L843.5 1036.6L844.5 1036.3L845.5 1035.9L846.5 1035.9L847.5 1036.1L848.5 1036.5L849.5 1036.9L850.5 1037.2L851.5 1037.7L852.5 1037.8L853.5 1037.7L854.5 1037.7L855.5 1037.9L856.5 1038.2L857.5 1038.2L858.5 1038.0L859.5 1038.0L860.5 1038.1L861.5 1038.7L862.5 1039.1L863.5 1039.4L864.5 1039.5L865.5 1039.4L866.5 1039.2L867.5 1038.9L868.5 1038.6L869.5 1038.7L870.5 1039.1L871.5 1039.6L872.5 1039.6L873.5 1039.1L874.5 1038.5L875.5 1038.3L876.5 1038.6L877.5 1038.8L878.5 1038.7L879.5 1038.4L880.5 1038.2L881.5 1038.3L882.5 1038.3L883.5 1038.4L884.5 1038.5L885.5 1038.9L886.5 1039.0L887.5 1039.3L888.5 1039.2L889.5 1039.1L890.5 1038.9L891.5 1038.6L892.5 1038.4L893.5 1038.4L894.5 1038.6L895.5 1039.0L896.5 1039.3L897.5 1039.2L898.5 1038.9L899.5 1038.3L900.5 1038.3L901.5 1038.3L902.5 1038.8L903.5 1039.0L904.5 1039.3L905.5 1039.4L906.5 1039.1L907.5 1039.0L908.5 1038.8L909.5 1038.8L910.5 1039.0L911.5 1039.0L912.5 1039.3L913.5 1039.5L914.5 1039.7L915.5 1039.1L916.5 1038.5L917.5 1038.2L918.5 1038.4L919.5 1038.6L920.5 1038.8L921.5 1038.8L922.5 1038.9L923.5 1038.7L924.5 1038.6L925.5 1038.8L926.5 1039.3L927.5 1039.8L928.5 1039.9L929.5 1039.8L930.5 1040.0L931.5 1040.1L932.5 1040.3L933.5 1040.1L934.5 1039.9L935.5 1039.6L936.5 1039.4L937.5 1039.2L938.5 1039.2L939.5 1039.3L940.5 1039.6L941.5 1039.7L942.5 1039.7L943.5 1039.7L944.5 1039.7L945.5 1039.8L946.5 1039.6L947.5 1039.7L948.5 1039.8L949.5 1040.0L950.5 1040.1L951.5 1040.2L952.5 1040.3L953.5 1040.3L954.5 1040.1L955.5 1039.8L956.5 1039.6L957.5 1039.3L958.5 1039.2L959.5 1039.3L960.5 1039.9L961.5 1040.4L962.5 1040.3L963.5 1040.0L964.5 1039.3L965.5 1039.1L966.5 1039.0L967.5 1039.0L968.5 1039.0L969.5 1038.8L970.5 1038.8L971.5 1038.5L972.5 1038.3L973.5 1038.1L974.5 1038.2L975.5 1038.4L976.5 1038.6L977.5 1038.4L978.5 1037.9L979.5 1037.5L980.4 1037.3"/>
<path d="M119.4 499.4 L120.4 494.6 L122 497.2"/>
<path d="M147.3 904.2 L147.8 899.4 L149.6 901.9"/>
</g>
</svg>
</body></html>
